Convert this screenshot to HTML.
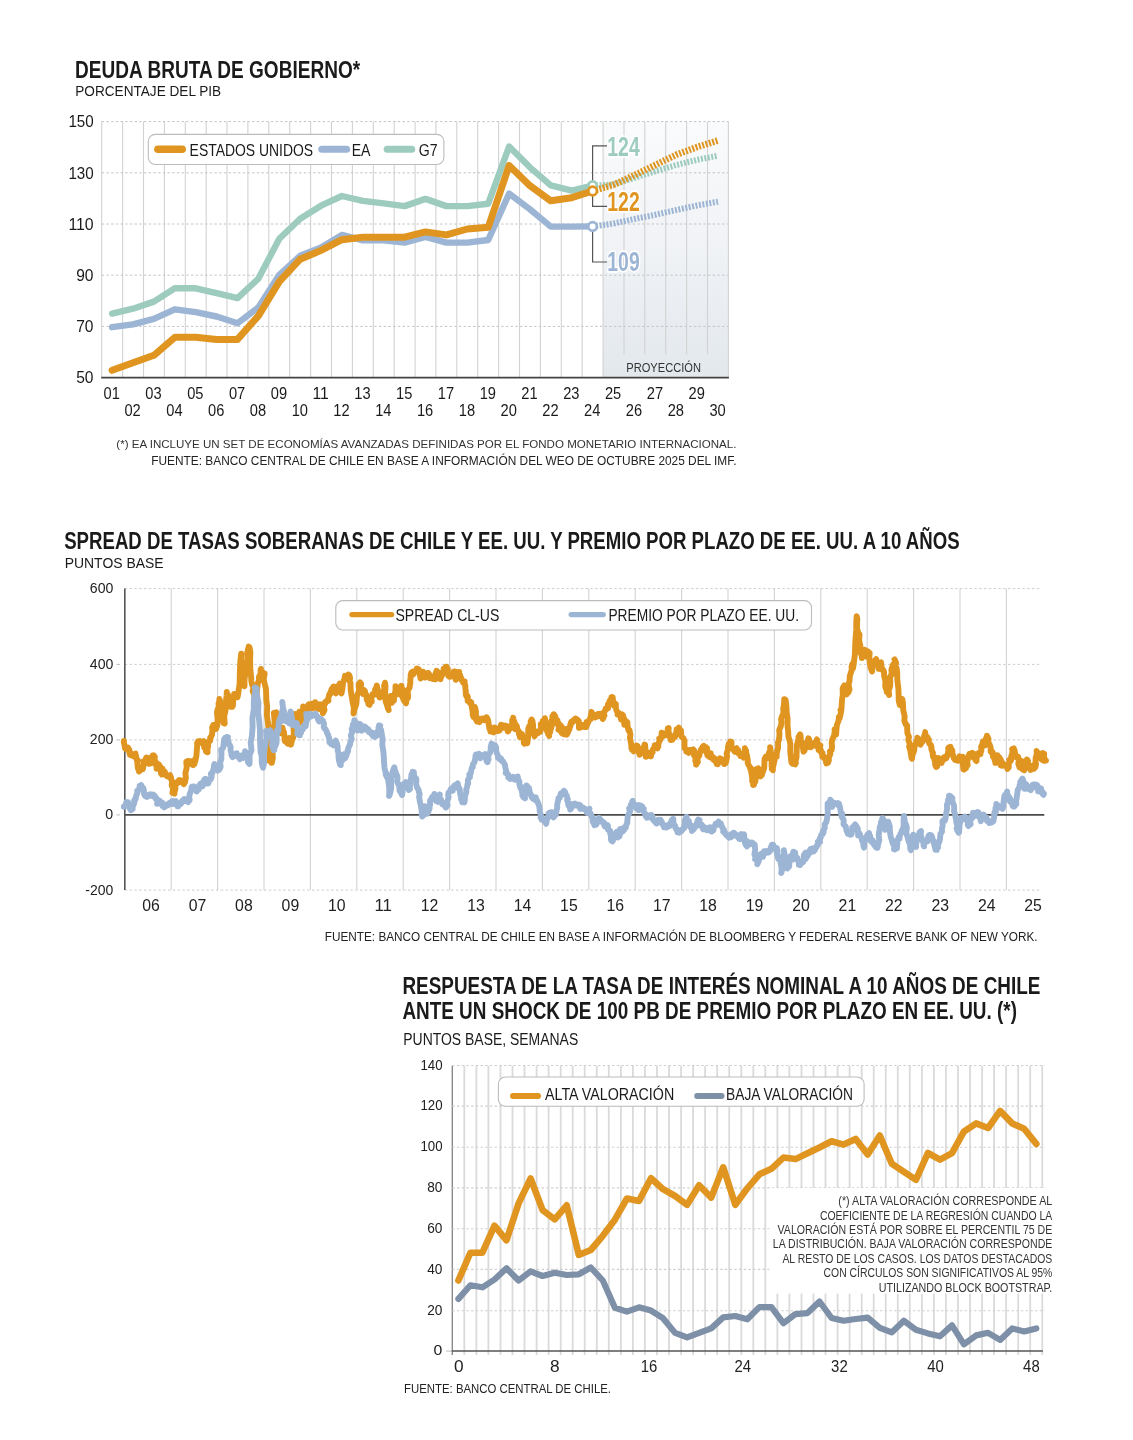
<!DOCTYPE html>
<html lang="es"><head><meta charset="utf-8"><title>Gráficos</title>
<style>
html,body{margin:0;padding:0;background:#fff;}
body{width:1133px;height:1440px;overflow:hidden;font-family:"Liberation Sans",sans-serif;}
svg{display:block;will-change:transform;}
svg text{font-family:"Liberation Sans",sans-serif;}
</style></head><body>
<svg width="1133" height="1440" viewBox="0 0 1133 1440">
<defs>
<linearGradient id="proj" x1="0" y1="0" x2="0" y2="1">
<stop offset="0" stop-color="#fafbfc"/><stop offset="0.45" stop-color="#f1f3f6"/><stop offset="1" stop-color="#e3e8ed"/>
</linearGradient>
</defs>
<rect width="1133" height="1440" fill="#fff"/>
<text x="75.1" y="78.0" font-size="23.3" font-weight="bold" text-anchor="start" fill="#1a1a1a" textLength="285.1" lengthAdjust="spacingAndGlyphs" >DEUDA BRUTA DE GOBIERNO*</text>
<text x="75.3" y="96.0" font-size="15" font-weight="normal" text-anchor="start" fill="#1a1a1a" textLength="145.9" lengthAdjust="spacingAndGlyphs" >PORCENTAJE DEL PIB</text>
<rect x="603.1" y="121.6" width="125.3" height="256.0" fill="url(#proj)"/>
<line x1="101.7" y1="121.6" x2="101.7" y2="377.6" stroke="#d2d2d2" stroke-width="1.1" />
<line x1="122.6" y1="121.6" x2="122.6" y2="377.6" stroke="#d2d2d2" stroke-width="1.1" />
<line x1="143.5" y1="121.6" x2="143.5" y2="377.6" stroke="#d2d2d2" stroke-width="1.1" />
<line x1="164.4" y1="121.6" x2="164.4" y2="377.6" stroke="#d2d2d2" stroke-width="1.1" />
<line x1="185.3" y1="121.6" x2="185.3" y2="377.6" stroke="#d2d2d2" stroke-width="1.1" />
<line x1="206.2" y1="121.6" x2="206.2" y2="377.6" stroke="#d2d2d2" stroke-width="1.1" />
<line x1="227.0" y1="121.6" x2="227.0" y2="377.6" stroke="#d2d2d2" stroke-width="1.1" />
<line x1="247.9" y1="121.6" x2="247.9" y2="377.6" stroke="#d2d2d2" stroke-width="1.1" />
<line x1="268.8" y1="121.6" x2="268.8" y2="377.6" stroke="#d2d2d2" stroke-width="1.1" />
<line x1="289.7" y1="121.6" x2="289.7" y2="377.6" stroke="#d2d2d2" stroke-width="1.1" />
<line x1="310.6" y1="121.6" x2="310.6" y2="377.6" stroke="#d2d2d2" stroke-width="1.1" />
<line x1="331.5" y1="121.6" x2="331.5" y2="377.6" stroke="#d2d2d2" stroke-width="1.1" />
<line x1="352.4" y1="121.6" x2="352.4" y2="377.6" stroke="#d2d2d2" stroke-width="1.1" />
<line x1="373.3" y1="121.6" x2="373.3" y2="377.6" stroke="#d2d2d2" stroke-width="1.1" />
<line x1="394.2" y1="121.6" x2="394.2" y2="377.6" stroke="#d2d2d2" stroke-width="1.1" />
<line x1="415.1" y1="121.6" x2="415.1" y2="377.6" stroke="#d2d2d2" stroke-width="1.1" />
<line x1="435.9" y1="121.6" x2="435.9" y2="377.6" stroke="#d2d2d2" stroke-width="1.1" />
<line x1="456.8" y1="121.6" x2="456.8" y2="377.6" stroke="#d2d2d2" stroke-width="1.1" />
<line x1="477.7" y1="121.6" x2="477.7" y2="377.6" stroke="#d2d2d2" stroke-width="1.1" />
<line x1="498.6" y1="121.6" x2="498.6" y2="377.6" stroke="#d2d2d2" stroke-width="1.1" />
<line x1="519.5" y1="121.6" x2="519.5" y2="377.6" stroke="#d2d2d2" stroke-width="1.1" />
<line x1="540.4" y1="121.6" x2="540.4" y2="377.6" stroke="#d2d2d2" stroke-width="1.1" />
<line x1="561.3" y1="121.6" x2="561.3" y2="377.6" stroke="#d2d2d2" stroke-width="1.1" />
<line x1="582.2" y1="121.6" x2="582.2" y2="377.6" stroke="#d2d2d2" stroke-width="1.1" />
<line x1="603.1" y1="121.6" x2="603.1" y2="377.6" stroke="#d2d2d2" stroke-width="1.1" />
<line x1="624.0" y1="121.6" x2="624.0" y2="354.5" stroke="#d2d2d2" stroke-width="1.1" />
<line x1="644.8" y1="121.6" x2="644.8" y2="354.5" stroke="#d2d2d2" stroke-width="1.1" />
<line x1="665.7" y1="121.6" x2="665.7" y2="354.5" stroke="#d2d2d2" stroke-width="1.1" />
<line x1="686.6" y1="121.6" x2="686.6" y2="354.5" stroke="#d2d2d2" stroke-width="1.1" />
<line x1="707.5" y1="121.6" x2="707.5" y2="354.5" stroke="#d2d2d2" stroke-width="1.1" />
<line x1="728.4" y1="121.6" x2="728.4" y2="377.6" stroke="#d2d2d2" stroke-width="1.1" />
<line x1="101.7" y1="121.6" x2="728.4" y2="121.6" stroke="#c4c4c4" stroke-width="1" stroke-dasharray="2.4 2.3"/>
<line x1="101.7" y1="172.8" x2="728.4" y2="172.8" stroke="#c4c4c4" stroke-width="1" stroke-dasharray="2.4 2.3"/>
<line x1="101.7" y1="224.0" x2="728.4" y2="224.0" stroke="#c4c4c4" stroke-width="1" stroke-dasharray="2.4 2.3"/>
<line x1="101.7" y1="275.2" x2="728.4" y2="275.2" stroke="#c4c4c4" stroke-width="1" stroke-dasharray="2.4 2.3"/>
<line x1="101.7" y1="326.4" x2="728.4" y2="326.4" stroke="#c4c4c4" stroke-width="1" stroke-dasharray="2.4 2.3"/>
<text x="93.7" y="127.4" font-size="17.2" font-weight="normal" text-anchor="end" fill="#1a1a1a" textLength="25.3" lengthAdjust="spacingAndGlyphs" >150</text>
<text x="93.7" y="178.6" font-size="17.2" font-weight="normal" text-anchor="end" fill="#1a1a1a" textLength="25.3" lengthAdjust="spacingAndGlyphs" >130</text>
<text x="93.7" y="229.8" font-size="17.2" font-weight="normal" text-anchor="end" fill="#1a1a1a" textLength="25.3" lengthAdjust="spacingAndGlyphs" >110</text>
<text x="93.5" y="281.0" font-size="17.2" font-weight="normal" text-anchor="end" fill="#1a1a1a" textLength="17.3" lengthAdjust="spacingAndGlyphs" >90</text>
<text x="93.5" y="332.2" font-size="17.2" font-weight="normal" text-anchor="end" fill="#1a1a1a" textLength="17.3" lengthAdjust="spacingAndGlyphs" >70</text>
<text x="93.5" y="383.4" font-size="17.2" font-weight="normal" text-anchor="end" fill="#1a1a1a" textLength="17.3" lengthAdjust="spacingAndGlyphs" >50</text>
<line x1="101.2" y1="377.6" x2="728.9" y2="377.6" stroke="#444" stroke-width="1.6" />
<text x="111.7" y="399.0" font-size="17.2" font-weight="normal" text-anchor="middle" fill="#1a1a1a" textLength="16.3" lengthAdjust="spacingAndGlyphs" >01</text>
<text x="132.6" y="415.6" font-size="17.2" font-weight="normal" text-anchor="middle" fill="#1a1a1a" textLength="16.3" lengthAdjust="spacingAndGlyphs" >02</text>
<text x="153.5" y="399.0" font-size="17.2" font-weight="normal" text-anchor="middle" fill="#1a1a1a" textLength="16.3" lengthAdjust="spacingAndGlyphs" >03</text>
<text x="174.4" y="415.6" font-size="17.2" font-weight="normal" text-anchor="middle" fill="#1a1a1a" textLength="16.3" lengthAdjust="spacingAndGlyphs" >04</text>
<text x="195.3" y="399.0" font-size="17.2" font-weight="normal" text-anchor="middle" fill="#1a1a1a" textLength="16.3" lengthAdjust="spacingAndGlyphs" >05</text>
<text x="216.2" y="415.6" font-size="17.2" font-weight="normal" text-anchor="middle" fill="#1a1a1a" textLength="16.3" lengthAdjust="spacingAndGlyphs" >06</text>
<text x="237.1" y="399.0" font-size="17.2" font-weight="normal" text-anchor="middle" fill="#1a1a1a" textLength="16.3" lengthAdjust="spacingAndGlyphs" >07</text>
<text x="258.0" y="415.6" font-size="17.2" font-weight="normal" text-anchor="middle" fill="#1a1a1a" textLength="16.3" lengthAdjust="spacingAndGlyphs" >08</text>
<text x="278.9" y="399.0" font-size="17.2" font-weight="normal" text-anchor="middle" fill="#1a1a1a" textLength="16.3" lengthAdjust="spacingAndGlyphs" >09</text>
<text x="299.8" y="415.6" font-size="17.2" font-weight="normal" text-anchor="middle" fill="#1a1a1a" textLength="16.3" lengthAdjust="spacingAndGlyphs" >10</text>
<text x="320.6" y="399.0" font-size="17.2" font-weight="normal" text-anchor="middle" fill="#1a1a1a" textLength="16.3" lengthAdjust="spacingAndGlyphs" >11</text>
<text x="341.5" y="415.6" font-size="17.2" font-weight="normal" text-anchor="middle" fill="#1a1a1a" textLength="16.3" lengthAdjust="spacingAndGlyphs" >12</text>
<text x="362.4" y="399.0" font-size="17.2" font-weight="normal" text-anchor="middle" fill="#1a1a1a" textLength="16.3" lengthAdjust="spacingAndGlyphs" >13</text>
<text x="383.3" y="415.6" font-size="17.2" font-weight="normal" text-anchor="middle" fill="#1a1a1a" textLength="16.3" lengthAdjust="spacingAndGlyphs" >14</text>
<text x="404.2" y="399.0" font-size="17.2" font-weight="normal" text-anchor="middle" fill="#1a1a1a" textLength="16.3" lengthAdjust="spacingAndGlyphs" >15</text>
<text x="425.1" y="415.6" font-size="17.2" font-weight="normal" text-anchor="middle" fill="#1a1a1a" textLength="16.3" lengthAdjust="spacingAndGlyphs" >16</text>
<text x="446.0" y="399.0" font-size="17.2" font-weight="normal" text-anchor="middle" fill="#1a1a1a" textLength="16.3" lengthAdjust="spacingAndGlyphs" >17</text>
<text x="466.9" y="415.6" font-size="17.2" font-weight="normal" text-anchor="middle" fill="#1a1a1a" textLength="16.3" lengthAdjust="spacingAndGlyphs" >18</text>
<text x="487.8" y="399.0" font-size="17.2" font-weight="normal" text-anchor="middle" fill="#1a1a1a" textLength="16.3" lengthAdjust="spacingAndGlyphs" >19</text>
<text x="508.7" y="415.6" font-size="17.2" font-weight="normal" text-anchor="middle" fill="#1a1a1a" textLength="16.3" lengthAdjust="spacingAndGlyphs" >20</text>
<text x="529.5" y="399.0" font-size="17.2" font-weight="normal" text-anchor="middle" fill="#1a1a1a" textLength="16.3" lengthAdjust="spacingAndGlyphs" >21</text>
<text x="550.4" y="415.6" font-size="17.2" font-weight="normal" text-anchor="middle" fill="#1a1a1a" textLength="16.3" lengthAdjust="spacingAndGlyphs" >22</text>
<text x="571.3" y="399.0" font-size="17.2" font-weight="normal" text-anchor="middle" fill="#1a1a1a" textLength="16.3" lengthAdjust="spacingAndGlyphs" >23</text>
<text x="592.2" y="415.6" font-size="17.2" font-weight="normal" text-anchor="middle" fill="#1a1a1a" textLength="16.3" lengthAdjust="spacingAndGlyphs" >24</text>
<text x="613.1" y="399.0" font-size="17.2" font-weight="normal" text-anchor="middle" fill="#1a1a1a" textLength="16.3" lengthAdjust="spacingAndGlyphs" >25</text>
<text x="634.0" y="415.6" font-size="17.2" font-weight="normal" text-anchor="middle" fill="#1a1a1a" textLength="16.3" lengthAdjust="spacingAndGlyphs" >26</text>
<text x="654.9" y="399.0" font-size="17.2" font-weight="normal" text-anchor="middle" fill="#1a1a1a" textLength="16.3" lengthAdjust="spacingAndGlyphs" >27</text>
<text x="675.8" y="415.6" font-size="17.2" font-weight="normal" text-anchor="middle" fill="#1a1a1a" textLength="16.3" lengthAdjust="spacingAndGlyphs" >28</text>
<text x="696.7" y="399.0" font-size="17.2" font-weight="normal" text-anchor="middle" fill="#1a1a1a" textLength="16.3" lengthAdjust="spacingAndGlyphs" >29</text>
<text x="717.6" y="415.6" font-size="17.2" font-weight="normal" text-anchor="middle" fill="#1a1a1a" textLength="16.3" lengthAdjust="spacingAndGlyphs" >30</text>
<text x="663.6" y="372.3" font-size="12.2" font-weight="normal" text-anchor="middle" fill="#333" textLength="74.7" lengthAdjust="spacingAndGlyphs" >PROYECCIÓN</text>
<polyline points="112.1,313.6 133.0,308.7 153.9,301.6 174.8,288.3 195.7,288.3 216.6,293.2 237.5,298.1 258.4,278.6 279.3,238.8 300.2,218.8 321.0,205.7 341.9,196.0 362.8,200.9 383.7,203.4 404.6,206.1 425.5,198.9 446.4,206.1 467.3,206.1 488.2,203.7 509.1,146.6 529.9,167.3 550.8,185.3 571.7,190.6 592.6,185.7" fill="none" stroke="#9DCBBE" stroke-width="6.4" stroke-linejoin="round" stroke-linecap="round" />
<polyline points="112.1,327.2 133.0,324.3 153.9,318.8 174.8,309.3 195.7,312.2 216.6,316.5 237.5,323.3 258.4,307.4 279.3,274.8 300.2,255.8 321.0,247.5 341.9,234.9 362.8,240.3 383.7,240.3 404.6,242.6 425.5,236.8 446.4,242.6 467.3,242.6 488.2,240.0 509.1,193.6 529.9,209.3 550.8,226.6 571.7,226.6 592.6,226.4" fill="none" stroke="#9DB5D4" stroke-width="6.4" stroke-linejoin="round" stroke-linecap="round" />
<polyline points="112.1,370.3 133.0,362.7 153.9,355.3 174.8,337.3 195.7,337.3 216.6,339.4 237.5,339.4 258.4,315.9 279.3,281.6 300.2,259.2 321.0,250.4 341.9,239.7 362.8,237.2 383.7,237.2 404.6,237.2 425.5,231.9 446.4,234.9 467.3,229.0 488.2,227.3 509.1,165.5 529.9,185.7 550.8,200.8 571.7,197.7 592.6,191.0" fill="none" stroke="#DF9520" stroke-width="7" stroke-linejoin="round" stroke-linecap="round" />
<polyline points="592.6,185.7 613.5,184.5 634.4,177.8 655.3,171.3 676.2,165.0 697.1,159.8 718.0,155.7" fill="none" stroke="#9DCBBE" stroke-width="6" stroke-linejoin="round" stroke-linecap="butt" stroke-dasharray="2 1.5"/>
<polyline points="592.6,226.4 613.5,223.5 634.4,219.0 655.3,214.8 676.2,210.0 697.1,205.5 718.0,201.7" fill="none" stroke="#9DB5D4" stroke-width="6" stroke-linejoin="round" stroke-linecap="butt" stroke-dasharray="2 1.5"/>
<polyline points="592.6,191.0 613.5,184.8 634.4,175.2 655.3,165.0 676.2,154.8 697.1,147.0 718.0,140.5" fill="none" stroke="#DF9520" stroke-width="6.6" stroke-linejoin="round" stroke-linecap="butt" stroke-dasharray="2 1.5"/>
<path d="M592.6,181 V145.8 H607" fill="none" stroke="#555" stroke-width="1.2"/>
<path d="M592.6,196 V206.3 H607" fill="none" stroke="#555" stroke-width="1.2"/>
<path d="M592.6,231 V262 H607" fill="none" stroke="#555" stroke-width="1.2"/>
<circle cx="592.6" cy="185.7" r="4.3" fill="#fff" stroke="#9DCBBE" stroke-width="2.7"/>
<circle cx="592.6" cy="191.0" r="4.3" fill="#fff" stroke="#DF9520" stroke-width="2.7"/>
<circle cx="592.6" cy="226.4" r="4.3" fill="#fff" stroke="#9DB5D4" stroke-width="2.7"/>
<text x="607.3" y="156.4" font-size="27" font-weight="bold" text-anchor="start" fill="#9DCBBE" textLength="32.4" lengthAdjust="spacingAndGlyphs" stroke="#fff" stroke-width="3.5" paint-order="stroke" stroke-linejoin="round">124</text>
<text x="607.3" y="211.2" font-size="27" font-weight="bold" text-anchor="start" fill="#DF9520" textLength="32.4" lengthAdjust="spacingAndGlyphs" stroke="#fff" stroke-width="3.5" paint-order="stroke" stroke-linejoin="round">122</text>
<text x="607.3" y="270.8" font-size="27" font-weight="bold" text-anchor="start" fill="#9DB5D4" textLength="32.4" lengthAdjust="spacingAndGlyphs" stroke="#fff" stroke-width="3.5" paint-order="stroke" stroke-linejoin="round">109</text>
<rect x="148.3" y="134.4" width="295.6" height="30.1" rx="7" fill="#fff" stroke="#bcbcbc" stroke-width="1.1"/>
<line x1="157.9" y1="149.3" x2="182.2" y2="149.3" stroke="#DF9520" stroke-width="7.6" stroke-linecap="round"/>
<text x="189.6" y="155.8" font-size="16.4" font-weight="normal" text-anchor="start" fill="#1a1a1a" textLength="123.5" lengthAdjust="spacingAndGlyphs" >ESTADOS UNIDOS</text>
<line x1="321.8" y1="149.3" x2="346.6" y2="149.3" stroke="#9DB5D4" stroke-width="7.1" stroke-linecap="round"/>
<text x="351.7" y="155.8" font-size="16.4" font-weight="normal" text-anchor="start" fill="#1a1a1a" textLength="18.8" lengthAdjust="spacingAndGlyphs" >EA</text>
<line x1="387.2" y1="149.3" x2="411.7" y2="149.3" stroke="#9DCBBE" stroke-width="7.1" stroke-linecap="round"/>
<text x="418.7" y="155.8" font-size="16.4" font-weight="normal" text-anchor="start" fill="#1a1a1a" textLength="18.8" lengthAdjust="spacingAndGlyphs" >G7</text>
<text x="736.4" y="447.7" font-size="11.5" font-weight="normal" text-anchor="end" fill="#333" textLength="620.1" lengthAdjust="spacingAndGlyphs" >(*) EA INCLUYE UN SET DE ECONOMÍAS AVANZADAS DEFINIDAS POR EL FONDO MONETARIO INTERNACIONAL.</text>
<text x="736.5" y="464.7" font-size="13.1" font-weight="normal" text-anchor="end" fill="#222" textLength="585.3" lengthAdjust="spacingAndGlyphs" >FUENTE: BANCO CENTRAL DE CHILE EN BASE A INFORMACIÓN DEL WEO DE OCTUBRE 2025 DEL IMF.</text>
<text x="64.2" y="549.1" font-size="23.3" font-weight="bold" text-anchor="start" fill="#1a1a1a" textLength="895.4" lengthAdjust="spacingAndGlyphs" >SPREAD DE TASAS SOBERANAS DE CHILE Y EE. UU. Y PREMIO POR PLAZO DE EE. UU. A 10 AÑOS</text>
<text x="64.7" y="568.0" font-size="15.4" font-weight="normal" text-anchor="start" fill="#1a1a1a" textLength="98.9" lengthAdjust="spacingAndGlyphs" >PUNTOS BASE</text>
<line x1="171.2" y1="588.6" x2="171.2" y2="890.1" stroke="#d2d2d2" stroke-width="1.1" />
<line x1="217.6" y1="588.6" x2="217.6" y2="890.1" stroke="#d2d2d2" stroke-width="1.1" />
<line x1="264.0" y1="588.6" x2="264.0" y2="890.1" stroke="#d2d2d2" stroke-width="1.1" />
<line x1="310.4" y1="588.6" x2="310.4" y2="890.1" stroke="#d2d2d2" stroke-width="1.1" />
<line x1="356.8" y1="588.6" x2="356.8" y2="890.1" stroke="#d2d2d2" stroke-width="1.1" />
<line x1="403.2" y1="588.6" x2="403.2" y2="890.1" stroke="#d2d2d2" stroke-width="1.1" />
<line x1="449.6" y1="588.6" x2="449.6" y2="890.1" stroke="#d2d2d2" stroke-width="1.1" />
<line x1="496.0" y1="588.6" x2="496.0" y2="890.1" stroke="#d2d2d2" stroke-width="1.1" />
<line x1="542.4" y1="588.6" x2="542.4" y2="890.1" stroke="#d2d2d2" stroke-width="1.1" />
<line x1="588.8" y1="588.6" x2="588.8" y2="890.1" stroke="#d2d2d2" stroke-width="1.1" />
<line x1="635.2" y1="588.6" x2="635.2" y2="890.1" stroke="#d2d2d2" stroke-width="1.1" />
<line x1="681.6" y1="588.6" x2="681.6" y2="890.1" stroke="#d2d2d2" stroke-width="1.1" />
<line x1="728.0" y1="588.6" x2="728.0" y2="890.1" stroke="#d2d2d2" stroke-width="1.1" />
<line x1="774.4" y1="588.6" x2="774.4" y2="890.1" stroke="#d2d2d2" stroke-width="1.1" />
<line x1="820.8" y1="588.6" x2="820.8" y2="890.1" stroke="#d2d2d2" stroke-width="1.1" />
<line x1="867.2" y1="588.6" x2="867.2" y2="890.1" stroke="#d2d2d2" stroke-width="1.1" />
<line x1="913.6" y1="588.6" x2="913.6" y2="890.1" stroke="#d2d2d2" stroke-width="1.1" />
<line x1="960.0" y1="588.6" x2="960.0" y2="890.1" stroke="#d2d2d2" stroke-width="1.1" />
<line x1="1006.4" y1="588.6" x2="1006.4" y2="890.1" stroke="#d2d2d2" stroke-width="1.1" />
<line x1="124.8" y1="588.6" x2="1040.6" y2="588.6" stroke="#cdcdcd" stroke-width="1" stroke-dasharray="2.4 2.4"/>
<line x1="124.8" y1="664.4" x2="1040.6" y2="664.4" stroke="#cdcdcd" stroke-width="1" stroke-dasharray="2.4 2.4"/>
<line x1="124.8" y1="739.9" x2="1040.6" y2="739.9" stroke="#cdcdcd" stroke-width="1" stroke-dasharray="2.4 2.4"/>
<line x1="124.8" y1="890.1" x2="1040.6" y2="890.1" stroke="#cdcdcd" stroke-width="1" stroke-dasharray="2.4 2.4"/>
<text x="113.3" y="593.0" font-size="13.8" font-weight="normal" text-anchor="end" fill="#222" textLength="23.5" lengthAdjust="spacingAndGlyphs" >600</text>
<text x="113.3" y="668.8" font-size="13.8" font-weight="normal" text-anchor="end" fill="#222" textLength="23.5" lengthAdjust="spacingAndGlyphs" >400</text>
<text x="113.3" y="744.3" font-size="13.8" font-weight="normal" text-anchor="end" fill="#222" textLength="23.5" lengthAdjust="spacingAndGlyphs" >200</text>
<text x="113.1" y="819.3" font-size="13.8" font-weight="normal" text-anchor="end" fill="#222" textLength="7.9" lengthAdjust="spacingAndGlyphs" >0</text>
<text x="113.3" y="894.5" font-size="13.8" font-weight="normal" text-anchor="end" fill="#222" textLength="28.0" lengthAdjust="spacingAndGlyphs" >-200</text>
<line x1="116.5" y1="664.4" x2="120.0" y2="664.4" stroke="#bdbdbd" stroke-width="1" />
<line x1="116.5" y1="739.9" x2="120.0" y2="739.9" stroke="#bdbdbd" stroke-width="1" />
<line x1="116.5" y1="814.9" x2="120.0" y2="814.9" stroke="#bdbdbd" stroke-width="1" />
<line x1="124.8" y1="814.9" x2="1044.3" y2="814.9" stroke="#4a4a4a" stroke-width="1.7" />
<line x1="124.8" y1="588.6" x2="124.8" y2="890.1" stroke="#555" stroke-width="1.6" />
<polyline points="123.9,741.0 123.8,742.3 124.7,745.8 125.0,748.5 126.2,749.2 125.8,748.6 126.9,749.2 126.9,748.2 128.0,747.6 127.9,750.1 129.2,749.5 130.1,752.3 129.6,753.4 129.8,754.6 130.2,755.0 131.4,754.4 131.4,754.8 132.9,755.0 133.0,756.1 133.7,755.3 134.0,755.4 135.2,757.1 135.4,753.4 135.1,755.5 136.0,755.4 136.2,758.7 137.3,760.9 138.0,760.4 137.3,762.3 137.7,767.1 138.3,769.4 139.9,769.8 139.1,771.6 140.9,769.6 140.5,770.1 140.7,769.8 142.1,769.3 142.7,769.3 143.1,768.2 143.6,763.9 144.1,764.2 143.7,761.1 145.0,761.9 145.6,760.1 145.9,759.8 146.1,757.7 146.4,757.5 147.3,758.7 148.2,758.0 148.7,759.9 148.5,761.6 148.8,763.8 150.5,763.6 149.7,763.2 151.4,760.4 151.2,759.0 151.1,759.1 152.3,756.8 152.7,755.4 154.0,756.9 153.9,755.4 154.9,757.1 154.1,759.0 155.8,762.1 155.3,764.1 156.9,767.2 156.6,768.8 157.0,766.8 157.6,766.0 158.8,764.4 159.0,766.1 159.6,765.6 160.7,767.5 160.9,770.7 160.9,773.3 161.9,774.5 161.3,771.9 162.4,770.6 162.6,768.6 162.7,770.1 164.1,771.8 164.1,771.2 164.6,771.5 165.4,773.3 165.3,773.8 166.1,775.5 166.2,774.5 167.4,776.6 168.6,776.7 168.9,776.7 169.6,776.3 168.8,776.0 170.0,775.1 170.8,776.9 171.3,779.6 172.1,781.5 171.7,785.3 173.2,788.8 172.4,792.8 173.7,792.8 174.5,793.6 174.2,792.6 174.2,793.0 175.5,788.4 175.3,785.4 176.6,782.3 176.2,783.0 177.9,781.9 177.4,783.3 177.6,782.3 179.4,779.9 179.0,780.2 180.0,781.4 181.0,782.0 181.2,781.0 182.1,780.5 182.2,780.9 183.2,780.8 182.4,781.4 183.8,784.1 183.9,784.2 185.0,782.2 185.0,781.7 185.9,777.8 185.4,773.3 186.7,767.9 186.3,761.7 188.0,760.9 188.6,762.1 188.5,761.7 188.9,761.7 189.9,761.9 189.7,763.7 190.1,762.7 190.9,761.1 191.5,761.2 191.3,763.5 193.2,764.0 193.0,765.2 193.2,763.4 194.5,763.9 195.0,760.8 195.4,761.0 195.3,759.0 195.7,759.3 196.4,755.7 196.8,750.5 197.2,745.5 197.1,743.1 198.0,741.3 199.0,742.0 200.2,741.2 199.9,741.1 200.7,742.8 201.3,742.2 201.7,742.2 202.6,742.1 201.7,742.0 203.6,741.1 202.6,742.8 203.9,744.1 204.2,747.6 205.4,748.5 205.6,747.7 206.0,751.1 206.1,751.6 207.6,752.3 207.5,749.5 208.2,745.8 208.0,743.0 208.9,741.2 210.0,741.0 210.2,740.7 210.2,737.8 210.6,738.0 212.0,734.6 212.4,730.6 212.2,727.5 212.4,727.6 213.3,724.9 214.7,725.1 214.4,725.2 215.0,728.3 215.8,728.2 215.9,729.1 217.2,725.8 217.6,719.3 217.0,712.2 217.8,708.9 218.9,707.5 218.5,703.4 219.2,701.8 219.4,699.0 220.5,702.5 220.9,706.8 220.8,708.9 221.5,710.8 222.0,714.1 222.7,715.4 223.1,719.1 223.4,723.0 224.7,723.6 224.2,716.6 225.7,709.4 226.4,703.8 226.1,700.4 226.6,695.2 226.8,691.9 227.2,693.4 228.7,695.9 229.2,697.9 228.9,696.9 230.5,699.0 229.6,700.4 230.6,702.2 230.7,706.8 232.2,705.4 232.1,706.9 232.9,705.8 233.1,702.1 233.5,698.4 234.7,697.1 234.2,693.9 234.7,696.1 235.5,695.9 235.6,695.3 236.7,696.2 237.6,697.0 238.2,693.9 238.4,691.8 239.6,684.0 239.9,670.7 240.4,660.4 241.0,656.0 241.2,653.6 241.4,660.8 241.9,668.0 243.0,674.7 243.0,679.2 243.4,680.3 243.4,682.8 244.5,686.3 244.5,679.9 245.3,673.3 245.2,667.9 246.6,663.6 247.0,662.4 247.7,658.4 247.1,653.1 248.7,646.6 249.5,647.3 250.0,649.7 250.4,652.6 250.1,659.2 250.3,668.8 251.2,677.8 251.3,680.7 252.0,684.4 253.4,687.9 252.6,691.1 254.6,695.5 254.2,696.9 255.5,696.8 255.8,696.6 255.8,697.2 256.2,700.3 256.2,700.6 256.6,694.4 257.1,689.9 257.8,683.0 258.9,680.9 259.0,676.6 260.5,674.0 260.9,668.9 260.5,670.8 261.0,672.8 261.7,674.4 262.8,672.4 262.6,674.0 263.1,674.1 264.7,673.6 263.7,679.3 264.7,683.9 265.9,688.4 266.2,694.3 266.4,700.7 267.2,706.1 266.9,715.3 267.9,722.4 268.7,730.1 268.1,740.7 269.2,748.4 269.4,754.9 269.7,761.1 271.6,761.3 271.8,762.6 271.8,762.9 272.8,758.2 272.4,746.6 273.5,733.7 274.6,720.9 273.8,712.8 274.3,712.7 274.7,713.9 276.3,712.5 276.9,714.1 276.3,716.6 277.9,721.5 277.1,725.0 278.6,724.5 279.5,728.2 279.2,730.9 280.4,731.4 281.0,733.2 280.6,732.3 281.8,730.1 282.6,730.7 282.5,727.7 282.8,729.6 284.1,732.6 284.2,734.7 284.6,736.7 284.5,738.8 284.8,741.0 285.7,741.8 286.6,742.1 287.6,742.4 286.6,742.2 287.6,743.7 288.2,740.7 289.7,739.7 289.1,738.1 289.8,740.1 290.3,743.1 290.7,744.1 290.9,744.6 291.7,741.7 292.5,738.1 293.3,737.7 293.8,733.0 293.3,725.9 294.1,719.1 294.8,714.0 294.8,714.1 295.4,714.7 296.4,717.0 296.8,715.6 297.5,717.2 297.7,716.6 298.6,713.9 299.3,711.7 299.8,711.7 300.2,715.6 299.8,719.6 300.2,722.8 301.2,720.2 302.1,717.9 302.2,717.9 302.4,714.2 303.1,710.5 303.2,706.5 303.9,708.0 304.5,707.9 305.5,709.6 306.3,709.9 305.7,709.2 306.6,711.3 308.1,710.9 307.2,708.6 308.6,707.1 308.4,704.7 308.8,704.3 310.2,705.0 310.2,704.8 310.3,704.9 311.0,704.0 311.3,703.8 312.8,705.8 312.9,708.5 313.0,707.5 314.2,706.1 314.4,705.4 315.6,705.1 315.3,704.4 315.2,702.3 315.8,705.6 316.8,707.2 316.9,707.5 317.9,708.7 319.0,709.1 319.2,706.1 319.3,704.3 320.6,704.5 319.9,704.6 320.9,705.1 321.2,704.7 322.7,707.3 321.7,709.4 322.8,711.6 322.9,713.3 324.5,710.1 323.7,706.0 325.7,702.9 325.2,702.0 326.4,701.7 326.6,700.9 327.5,699.9 328.1,700.0 328.5,700.7 328.3,698.6 328.6,697.1 329.5,693.9 329.5,694.3 330.8,693.5 330.7,692.0 331.8,692.0 331.3,690.1 331.6,689.0 332.6,688.2 333.5,686.5 334.0,686.5 334.6,688.6 334.8,692.0 335.9,693.3 335.3,690.9 335.9,690.7 336.3,692.1 337.1,688.9 338.4,688.1 338.9,688.3 338.1,686.7 339.6,683.7 339.5,684.4 340.5,687.8 341.1,690.3 340.9,691.9 341.5,693.5 342.0,690.9 342.5,688.0 343.0,682.8 344.3,679.3 345.0,675.8 345.4,678.1 345.1,676.2 346.5,678.5 346.3,676.7 347.3,678.1 347.1,678.3 348.5,678.2 348.5,674.5 349.5,675.5 350.1,678.3 349.3,680.4 350.5,682.9 350.5,686.1 350.7,689.7 351.6,695.7 352.7,702.4 353.6,706.7 354.2,711.7 353.5,713.4 353.6,711.0 354.2,708.4 354.6,708.8 355.4,706.8 356.4,703.6 356.7,699.4 356.9,696.2 358.2,692.8 359.1,690.2 358.8,688.1 358.6,684.3 360.1,682.4 361.1,684.1 361.2,683.9 360.7,687.1 362.2,690.5 363.1,693.9 363.0,693.4 363.4,691.7 364.2,690.2 365.0,691.3 364.8,691.9 365.7,694.0 366.0,694.3 366.6,696.0 366.6,695.5 366.7,699.5 368.5,702.7 368.3,704.0 369.6,704.9 369.6,704.9 369.8,703.1 370.2,702.7 370.1,702.4 371.8,701.6 371.1,697.8 372.5,695.5 373.5,695.2 372.7,694.0 374.7,693.4 373.8,694.9 375.6,692.6 375.0,689.7 376.2,687.9 376.8,685.6 377.0,686.0 377.1,687.1 377.9,690.1 379.0,693.1 378.4,694.9 379.6,697.6 380.1,697.5 380.2,696.3 380.3,694.3 381.8,695.1 381.1,693.0 382.1,693.2 383.2,693.0 383.2,691.7 384.5,689.2 384.1,685.9 385.0,682.7 385.5,686.6 385.1,693.9 385.7,701.6 386.9,704.8 387.8,708.0 388.7,710.0 388.2,708.5 388.2,703.8 389.4,700.4 390.6,695.9 389.7,699.0 390.2,699.1 391.9,702.8 391.1,702.4 392.1,700.1 392.1,699.1 392.9,699.7 394.0,700.4 394.0,695.6 395.5,690.8 395.5,686.1 395.6,687.5 395.6,689.1 397.1,691.4 396.9,693.8 398.5,693.4 398.9,693.5 398.3,694.2 398.8,693.0 399.5,688.8 400.5,687.1 401.4,685.7 400.8,686.3 402.3,688.7 403.1,691.5 402.4,697.0 403.0,697.7 403.5,699.8 404.0,700.5 404.6,701.5 406.0,703.3 406.1,703.1 406.2,702.1 406.5,699.0 408.0,698.0 408.1,696.0 407.7,690.1 409.5,687.9 410.1,684.2 410.3,683.2 410.3,679.9 410.7,677.2 410.6,675.2 411.4,672.6 413.0,673.7 412.3,674.7 413.6,674.2 413.2,671.5 414.0,671.9 414.4,671.8 415.1,672.0 416.0,670.3 417.0,670.7 417.2,670.9 416.9,668.5 418.7,669.2 417.9,671.4 419.6,672.5 420.0,675.4 420.3,677.3 420.6,677.8 420.3,677.6 420.6,678.4 422.1,675.9 421.9,676.6 423.4,673.2 423.2,671.7 423.2,671.7 424.7,675.0 424.2,674.1 425.2,675.2 425.3,677.6 426.1,676.2 427.5,676.5 428.0,674.8 427.8,672.9 428.5,673.1 428.9,673.8 429.3,674.6 429.4,675.0 429.8,678.2 430.3,677.5 430.7,677.0 432.1,677.5 433.0,679.0 433.1,678.3 433.1,677.9 434.4,678.8 435.2,679.3 434.6,676.7 434.6,676.1 435.7,673.2 435.8,673.2 436.6,670.8 437.5,671.6 438.1,675.2 438.5,677.5 438.7,678.5 438.7,678.3 440.5,679.2 439.9,676.9 440.6,676.5 441.0,677.5 441.9,675.6 442.1,675.1 442.2,672.5 444.1,669.5 443.7,668.7 444.5,669.8 445.1,670.1 445.1,669.1 445.7,666.8 446.5,666.8 446.7,669.0 447.9,669.1 447.5,671.5 448.0,673.6 448.1,675.5 449.5,676.8 450.6,676.6 450.5,676.5 450.1,675.2 451.5,675.6 451.3,676.5 451.7,676.5 453.4,674.9 453.7,672.1 453.6,671.7 454.8,671.5 454.3,673.1 455.9,674.9 456.0,678.6 455.9,679.9 456.1,679.2 458.0,675.5 458.1,672.1 459.2,671.9 458.3,675.4 460.2,675.5 459.4,676.8 460.6,678.7 461.0,677.7 461.3,678.1 461.4,679.8 463.1,681.5 463.3,682.9 462.8,681.9 464.7,681.4 464.2,682.0 465.3,685.4 465.3,688.1 465.8,691.3 465.7,694.0 466.2,696.0 467.3,695.7 467.8,696.9 467.6,701.0 469.6,701.6 469.2,701.9 470.3,703.5 470.5,701.6 471.3,702.5 471.9,708.0 472.6,711.4 472.9,715.0 473.5,716.9 472.7,714.7 474.6,712.5 474.4,709.8 474.9,707.0 476.0,711.6 475.8,716.7 475.8,719.2 477.1,721.5 477.9,719.3 477.8,718.2 477.7,720.5 478.2,719.8 479.2,720.5 479.5,722.2 480.4,720.4 481.3,719.3 481.5,718.9 482.3,718.5 482.4,718.8 482.8,719.1 483.4,719.3 484.4,718.5 484.5,720.3 485.2,719.9 485.5,719.3 485.9,718.9 486.4,718.2 486.5,717.1 487.5,718.7 488.3,721.1 488.8,725.5 489.6,726.4 489.2,727.9 490.1,730.2 490.8,730.0 490.5,731.6 491.2,730.2 492.2,731.6 492.2,730.4 493.6,732.3 493.8,730.9 493.4,730.4 494.6,727.5 495.2,727.9 495.3,727.8 495.2,729.6 495.8,729.8 497.3,730.4 497.8,731.0 497.8,728.9 498.6,729.5 499.6,730.3 498.9,729.8 500.6,726.5 501.1,724.6 501.0,724.6 500.8,725.3 502.4,727.2 502.1,728.0 502.7,726.1 503.0,725.2 503.9,726.2 503.7,727.3 505.0,726.0 505.2,725.5 506.5,726.0 505.7,727.5 506.9,728.9 507.7,731.5 508.5,731.0 508.7,728.9 509.4,727.7 509.9,726.2 510.3,728.6 510.2,727.4 511.2,727.2 511.4,727.4 512.2,724.5 512.2,720.1 513.3,718.7 513.2,717.6 513.4,719.0 514.0,721.2 515.2,724.2 515.6,729.0 515.2,729.2 516.9,729.2 516.8,725.8 517.2,728.7 518.2,730.8 519.0,731.4 519.0,733.9 519.3,733.8 519.9,737.3 520.1,736.6 520.5,736.9 521.3,736.1 521.1,734.5 522.0,734.0 522.1,735.7 523.9,737.6 523.8,743.1 524.5,743.7 524.9,742.0 526.1,743.1 526.0,743.2 527.0,743.0 526.8,742.8 527.3,743.1 528.0,738.3 528.2,735.4 528.3,728.2 528.8,728.0 529.2,726.1 531.0,725.7 530.6,721.7 531.5,719.6 531.7,719.5 532.5,721.4 533.1,725.2 533.0,729.3 533.6,733.2 534.3,735.6 534.5,736.3 535.7,734.3 536.0,733.5 536.4,731.5 537.3,732.9 537.2,733.4 538.0,733.1 538.6,732.5 538.2,731.7 540.1,731.0 540.4,731.7 540.9,728.0 540.9,726.3 540.8,724.3 542.7,725.3 542.3,725.4 543.5,723.4 542.8,720.9 543.9,720.3 544.6,719.6 544.8,718.2 545.0,718.3 546.2,724.3 545.8,727.3 547.1,731.2 547.7,731.9 547.8,733.6 548.4,733.7 549.2,736.0 548.7,734.0 549.2,732.7 550.1,732.3 550.3,730.7 552.0,725.2 551.6,720.6 552.5,718.5 552.3,716.4 553.0,715.5 553.5,715.1 553.6,714.2 554.5,715.1 555.3,716.5 555.4,719.4 555.6,719.8 557.4,720.2 557.9,722.0 557.7,724.0 559.2,728.1 558.5,729.7 559.2,729.1 559.6,727.9 560.0,724.7 561.7,726.6 560.8,728.0 562.5,730.1 561.6,732.9 563.3,733.9 564.2,734.2 564.4,734.0 564.2,732.6 565.3,729.3 566.0,729.1 566.5,728.8 567.0,730.8 566.8,733.3 566.7,734.7 568.0,732.5 568.2,730.3 569.0,730.0 569.3,729.7 569.8,726.9 570.6,725.6 570.3,724.7 571.1,722.1 572.1,722.7 572.0,721.6 572.5,721.3 572.8,721.2 573.3,720.2 574.8,719.3 575.5,720.4 575.6,718.4 576.3,720.7 576.8,720.3 577.4,719.7 578.1,720.6 578.0,720.2 578.8,721.0 578.9,725.5 579.0,727.9 580.4,727.4 579.7,727.0 581.5,727.2 581.6,724.9 581.2,725.4 581.7,724.8 582.6,725.3 583.6,725.9 584.5,726.9 584.6,724.8 584.5,726.8 586.2,726.8 586.2,727.1 587.2,724.5 586.6,724.4 586.6,722.0 588.5,721.9 587.8,722.8 588.3,721.2 588.9,720.8 590.0,718.6 591.0,718.8 590.6,716.5 590.9,715.3 591.4,711.8 592.7,714.1 592.4,713.8 593.4,715.3 593.8,715.8 593.7,715.0 594.9,716.1 595.5,717.4 596.6,715.6 596.4,715.6 596.5,714.7 597.6,714.3 597.5,716.2 598.0,715.3 598.1,714.0 600.1,716.0 599.2,714.0 600.1,714.4 601.5,713.6 600.9,714.4 602.1,717.8 602.7,719.0 603.6,717.3 602.9,716.2 604.4,715.4 603.6,715.6 604.1,711.9 606.0,709.6 605.9,708.8 605.6,708.7 606.5,708.6 608.0,708.4 607.9,706.9 607.9,704.3 608.7,704.2 608.9,705.1 609.2,702.4 609.9,700.3 611.5,698.3 611.5,697.2 612.5,698.4 612.7,697.1 612.7,697.5 613.0,700.3 613.4,701.5 615.1,704.9 614.1,705.9 614.9,704.9 615.9,704.2 615.7,705.9 616.2,709.6 618.0,714.0 618.4,712.6 617.6,714.6 618.8,714.4 619.9,714.5 620.4,716.7 621.1,719.6 621.5,718.1 621.1,714.9 621.9,714.3 622.9,715.2 623.4,716.9 624.1,718.5 624.7,720.0 624.2,722.5 624.3,724.7 625.5,724.3 625.2,723.6 626.5,721.4 627.3,722.1 627.6,726.5 628.6,730.6 628.4,730.0 629.2,731.3 629.5,730.0 630.4,734.9 629.9,738.0 631.2,744.0 631.4,748.4 632.6,749.2 632.0,749.7 632.2,749.2 633.6,751.3 634.3,750.3 634.2,748.5 635.3,748.4 635.9,746.9 636.1,746.1 636.5,746.7 637.6,746.2 636.6,745.5 637.6,746.1 638.6,748.7 638.1,750.8 639.0,752.9 639.6,754.8 640.7,753.6 640.9,749.9 642.2,749.1 641.7,749.4 641.6,749.3 643.1,750.6 643.9,747.2 644.6,744.5 645.1,744.8 645.4,748.7 645.7,753.3 645.9,756.9 646.1,754.8 646.2,755.0 647.8,753.7 647.8,752.4 648.4,754.6 648.9,754.4 650.2,753.8 649.5,755.9 650.7,755.8 651.0,756.4 651.2,753.5 652.5,752.4 651.9,752.0 653.1,749.0 654.0,748.3 654.7,746.8 654.0,747.7 655.4,745.1 654.8,745.2 655.4,746.4 656.5,746.3 657.3,748.4 656.7,747.5 658.3,746.8 658.5,743.6 659.5,740.5 660.1,740.2 659.2,738.6 660.3,739.4 660.8,738.0 661.7,737.3 661.5,735.2 661.7,732.6 663.6,735.1 663.5,733.4 664.0,735.8 663.8,735.6 665.4,735.3 664.9,733.4 665.5,734.9 667.0,734.0 667.3,733.2 667.9,730.7 667.7,728.5 668.7,728.1 668.2,728.2 668.8,732.0 669.8,737.2 670.3,737.8 671.6,739.4 670.7,740.0 672.3,739.0 672.5,739.6 672.4,738.2 672.6,736.3 674.2,735.8 674.5,735.4 675.6,735.1 675.0,737.0 675.3,735.3 676.0,732.7 676.6,731.4 676.6,729.3 678.1,728.7 678.8,727.7 679.5,729.4 679.3,729.6 680.3,729.8 681.0,730.4 681.2,733.2 680.7,735.0 681.8,736.9 682.6,737.7 683.3,737.8 684.2,739.9 684.5,740.4 684.5,744.9 684.6,748.0 684.6,747.8 686.4,749.9 686.6,749.8 686.3,751.6 687.7,752.0 688.6,752.8 688.7,751.3 688.7,752.2 689.2,752.1 689.4,750.0 691.2,750.0 691.5,751.7 691.4,750.5 692.1,750.0 692.2,750.7 693.3,749.4 693.8,750.4 694.1,750.4 694.0,752.9 694.1,755.6 695.7,757.5 695.3,760.9 696.3,763.4 696.1,764.7 697.9,761.7 697.1,760.2 697.7,758.4 699.4,755.4 699.9,751.7 700.6,751.7 700.9,751.2 701.0,749.4 702.0,750.8 702.4,747.6 702.4,747.1 703.2,748.0 704.0,746.9 704.4,748.4 703.6,745.8 704.2,747.6 706.0,747.2 705.5,747.6 707.1,748.3 707.3,751.9 706.8,752.4 707.4,755.4 708.8,756.5 709.5,756.4 709.2,756.8 709.2,755.7 710.7,753.9 710.7,753.2 710.9,755.2 711.3,757.7 712.6,756.9 713.4,757.3 712.8,758.6 713.8,759.6 713.8,760.0 714.6,758.3 714.9,760.9 716.4,761.9 716.1,762.7 717.7,764.2 716.8,764.1 717.2,763.8 718.0,763.0 718.8,760.1 719.7,758.2 720.1,760.0 719.8,760.4 721.4,758.9 721.8,759.0 721.3,760.1 723.1,759.7 723.0,762.5 722.6,761.2 724.4,764.0 724.0,763.7 724.2,764.0 725.7,763.2 726.4,760.4 727.1,756.5 726.6,753.6 727.9,749.7 728.0,746.6 729.1,747.5 728.5,746.4 728.7,743.7 730.4,743.1 730.3,741.5 730.5,742.3 731.5,742.1 731.4,746.5 732.8,748.5 733.4,749.2 733.6,749.7 733.3,749.5 734.9,751.8 735.6,750.7 735.2,749.1 736.6,748.2 736.6,749.8 736.6,748.8 736.6,750.2 738.3,750.2 738.6,751.6 738.3,753.4 739.1,753.8 739.6,753.9 740.5,756.0 740.5,755.9 741.9,755.7 741.3,756.1 742.7,756.4 743.4,757.6 742.9,755.7 743.1,754.2 745.1,751.1 744.9,748.3 745.2,749.6 746.1,750.6 745.8,754.0 746.5,753.6 747.3,757.2 747.9,761.6 747.6,762.6 748.4,764.8 749.8,766.7 750.1,768.5 750.9,768.1 750.3,769.1 751.2,771.6 752.2,777.8 752.2,781.3 753.5,782.9 753.1,785.0 753.9,784.8 754.4,782.8 755.4,781.5 755.6,779.0 755.5,776.7 757.2,774.0 756.2,769.1 757.7,768.7 758.3,768.3 758.0,769.1 759.1,769.1 759.7,772.0 759.6,772.7 759.9,773.8 760.4,776.4 761.2,775.8 761.9,774.8 762.2,773.9 762.3,773.4 762.7,772.2 764.2,768.1 764.4,763.0 764.4,761.1 764.6,759.1 765.7,756.8 767.1,756.3 766.2,756.2 767.2,758.4 767.3,757.7 768.3,756.9 769.4,755.3 768.9,752.9 770.4,749.8 770.1,747.2 771.6,756.8 771.6,766.2 772.2,768.8 771.9,769.1 772.9,770.2 772.9,767.8 773.6,764.3 774.6,760.1 774.7,757.3 775.6,756.4 776.3,756.0 776.7,756.9 776.6,754.3 777.2,750.9 778.1,747.6 778.0,742.3 778.9,740.1 779.5,734.8 779.2,730.2 780.8,726.4 781.5,722.3 781.1,719.0 782.2,715.9 782.8,715.0 783.5,712.4 783.2,708.5 783.9,705.8 784.3,699.1 785.5,699.8 785.7,700.4 786.5,707.6 786.7,713.4 787.5,717.8 787.6,721.3 787.5,725.5 788.2,731.9 788.4,736.5 789.1,738.8 790.4,743.9 790.2,751.5 791.0,758.3 791.4,762.3 792.3,763.6 793.1,760.9 792.1,760.6 793.9,761.1 793.6,761.2 793.8,763.9 795.0,764.4 795.9,762.9 795.4,761.6 796.5,757.5 796.7,750.1 796.9,745.5 797.9,740.9 798.7,738.9 798.4,737.2 800.1,734.3 800.6,736.0 800.8,739.9 800.7,741.8 801.4,742.0 802.0,742.5 802.5,745.4 803.0,748.2 803.5,751.7 804.5,750.5 804.2,748.2 805.0,744.1 805.7,743.1 805.2,745.3 807.2,747.0 806.8,746.1 807.3,744.6 807.3,742.6 808.3,738.8 808.4,738.3 809.0,738.8 809.2,743.4 810.3,745.4 811.4,746.7 810.7,747.2 812.2,746.3 812.1,746.2 812.1,745.1 813.1,745.5 813.3,743.2 814.8,743.8 815.6,745.6 815.4,742.4 816.0,741.4 817.1,739.8 816.8,739.5 817.4,744.1 818.1,744.7 818.6,750.0 819.4,747.7 819.9,746.1 820.4,745.4 819.8,747.8 820.9,750.3 821.4,753.3 822.6,753.3 822.2,756.8 822.7,756.4 824.1,758.2 823.4,755.7 824.1,756.9 825.6,759.0 825.9,761.7 826.4,763.5 827.0,761.7 826.3,760.8 828.2,762.0 828.1,762.8 828.4,761.2 828.9,760.3 828.8,757.3 830.3,754.3 829.8,751.4 831.6,750.1 832.1,746.3 831.7,743.0 831.7,742.9 832.1,740.1 833.2,737.4 834.1,735.6 834.9,730.3 834.6,729.3 835.8,729.9 835.4,733.8 836.1,734.5 836.2,732.5 836.9,725.0 838.6,720.5 838.9,717.0 839.5,717.2 839.7,718.0 840.5,714.4 841.2,711.1 840.5,710.0 841.4,709.5 841.6,706.1 842.0,699.9 842.8,694.7 842.6,688.4 844.3,685.3 845.1,688.1 845.6,688.1 845.1,691.2 846.7,694.4 846.5,693.8 846.3,692.9 846.8,690.9 848.6,692.2 847.8,691.1 849.5,689.6 848.6,684.5 849.5,681.1 849.8,676.4 850.2,674.7 851.7,670.2 851.6,666.8 852.3,664.1 852.8,664.7 853.3,665.3 853.1,668.1 854.9,654.5 855.3,642.1 856.2,629.9 856.3,621.2 856.7,616.3 857.3,618.5 856.9,628.0 858.1,632.2 857.9,633.3 859.5,634.2 859.1,640.5 860.4,645.9 859.9,651.3 860.9,653.5 861.7,655.0 861.7,655.0 861.9,658.1 863.5,655.6 864.1,656.3 864.7,654.2 863.7,651.4 864.5,649.7 865.2,650.5 865.9,652.7 865.7,655.9 866.6,656.5 867.1,655.9 867.6,651.2 868.1,651.5 869.2,653.4 869.7,653.0 869.3,656.3 869.7,661.7 870.5,667.3 872.1,671.4 872.0,670.7 872.0,667.5 872.2,665.5 874.1,663.9 874.3,662.9 874.5,663.4 875.7,660.6 875.3,660.2 876.2,659.1 876.4,662.8 877.2,664.6 877.1,665.2 877.9,666.3 878.5,668.8 878.5,668.5 879.4,667.5 880.1,669.0 879.7,667.3 881.0,662.7 881.1,662.4 881.2,665.8 882.2,668.7 882.2,670.0 883.7,670.7 884.1,672.6 884.1,675.8 885.5,681.5 885.2,683.7 885.3,686.7 886.6,690.4 886.8,692.1 887.6,692.3 888.5,693.3 889.1,695.0 888.6,689.9 889.3,689.0 890.2,686.1 890.3,682.3 890.1,676.8 891.7,674.5 891.4,669.4 893.1,664.6 893.1,665.6 893.2,665.1 894.2,664.0 895.1,661.0 894.5,659.4 896.1,662.7 895.3,665.0 896.7,668.5 897.2,672.5 897.3,679.8 898.4,688.7 898.7,696.3 898.7,698.1 898.7,700.1 899.3,703.1 899.9,705.0 901.5,704.0 902.1,702.1 901.3,699.8 902.3,699.2 903.0,703.3 903.2,710.0 904.7,716.5 904.3,720.6 905.4,723.5 905.6,724.2 906.5,724.6 907.1,725.6 907.2,729.3 907.4,733.1 908.4,735.6 909.0,736.8 908.3,740.0 909.9,744.2 909.1,746.5 909.9,749.0 910.3,750.6 911.2,755.5 911.4,757.7 912.0,758.7 912.3,756.0 913.0,753.7 914.2,750.4 914.6,746.7 914.2,745.1 915.4,744.6 915.3,744.7 916.6,740.8 917.7,739.2 917.3,737.6 918.0,738.4 919.1,739.2 919.6,740.5 919.1,743.5 920.5,744.6 921.1,741.5 920.6,741.9 920.9,743.5 922.6,741.6 922.6,740.2 922.8,740.3 923.9,740.1 924.1,736.3 924.2,736.5 925.0,733.1 925.2,732.1 925.4,735.1 926.9,737.5 927.0,737.4 926.6,736.5 927.5,737.1 927.7,738.9 928.9,739.7 928.7,741.7 929.3,743.6 930.9,745.0 931.6,747.7 931.2,747.3 931.6,750.2 933.0,752.8 932.6,753.4 933.1,757.0 934.3,757.0 934.5,760.0 935.0,761.5 935.3,765.5 936.3,765.8 936.3,767.1 937.2,766.3 936.6,766.1 938.1,763.1 939.0,760.4 938.5,758.0 938.8,758.3 939.9,761.2 940.6,760.8 941.0,762.2 941.7,762.8 941.5,762.3 942.6,760.3 943.6,759.9 943.8,758.5 943.3,757.8 944.6,757.2 944.6,758.1 944.8,757.0 946.2,757.9 946.4,758.1 947.4,755.2 947.7,753.8 948.4,750.8 948.7,749.9 948.1,748.6 948.7,747.5 950.5,746.8 949.7,747.6 950.8,749.2 951.6,749.4 952.4,750.6 952.2,753.9 952.8,754.3 953.4,756.7 953.1,755.8 953.8,758.0 955.0,759.8 954.7,759.3 955.3,759.5 956.4,760.0 957.4,758.8 957.6,759.7 957.8,760.8 957.8,758.4 959.1,760.5 958.8,758.1 959.5,756.2 961.1,757.1 960.9,757.5 960.8,758.6 962.1,758.9 962.8,756.9 963.0,759.6 962.8,763.8 963.4,769.1 964.6,769.1 964.2,769.6 965.2,768.5 966.0,768.1 965.8,767.0 967.7,765.1 967.1,762.7 968.3,757.6 968.6,755.6 969.6,754.3 970.1,754.8 969.6,753.7 970.2,754.7 971.7,754.2 972.1,755.0 972.3,753.8 971.8,752.8 973.3,753.3 973.4,754.9 974.4,754.2 973.7,757.8 974.8,757.8 975.3,759.9 976.5,761.0 976.6,758.7 976.7,756.9 978.0,753.6 978.4,753.2 978.8,753.6 979.5,754.3 979.1,754.3 980.5,754.0 979.9,752.6 981.4,751.0 981.1,746.8 982.1,745.1 983.0,741.6 983.2,743.3 983.5,743.5 984.4,743.3 985.0,745.5 985.6,743.8 985.8,741.4 985.8,739.0 987.0,736.0 987.0,737.2 987.0,735.6 987.3,736.3 988.5,738.7 988.2,742.5 989.5,744.3 990.4,746.7 990.7,747.9 990.6,751.4 992.0,753.1 992.5,752.0 993.1,753.9 993.4,755.5 993.0,756.6 994.4,756.9 994.3,758.9 995.4,762.4 995.4,762.9 995.4,762.1 995.8,759.9 996.8,758.0 997.7,757.0 997.5,755.3 998.5,758.0 999.4,757.4 999.1,757.2 999.7,758.1 1001.0,760.3 1001.5,762.3 1000.7,765.5 1002.4,763.0 1002.3,762.5 1002.8,763.3 1002.6,765.8 1003.2,765.3 1005.2,765.7 1005.0,764.7 1005.8,765.0 1006.3,764.9 1007.1,766.6 1006.9,766.2 1007.4,769.1 1008.6,767.5 1008.8,767.3 1008.6,763.4 1010.1,761.7 1009.3,759.9 1011.0,760.5 1011.1,759.4 1011.2,756.7 1012.3,752.7 1012.7,750.1 1012.2,749.1 1013.8,748.3 1014.2,750.3 1014.2,751.2 1014.7,750.6 1015.1,753.5 1016.2,757.3 1015.8,756.5 1017.1,756.6 1017.3,757.2 1018.1,756.9 1018.9,759.6 1018.3,763.8 1019.6,767.5 1020.4,766.2 1020.0,765.1 1021.2,762.5 1022.2,761.2 1021.8,761.2 1022.0,765.4 1023.5,767.9 1022.7,769.4 1024.2,770.3 1023.7,769.6 1024.9,768.0 1024.9,767.0 1025.3,764.0 1026.1,762.6 1026.9,759.6 1028.1,760.9 1027.9,761.5 1027.7,762.8 1028.6,764.7 1029.4,767.7 1029.2,768.1 1030.5,769.6 1030.6,770.0 1031.3,768.0 1032.5,768.8 1032.8,768.4 1032.7,765.5 1032.9,767.4 1033.3,767.9 1034.0,768.7 1035.6,766.6 1036.0,763.8 1035.5,761.7 1035.7,757.6 1036.8,754.5 1036.6,750.9 1038.4,754.7 1037.8,756.7 1038.9,757.3 1039.0,756.9 1040.3,756.7 1039.9,756.2 1041.0,758.6 1041.7,759.7 1041.8,759.7 1041.7,757.3 1042.6,757.1 1042.7,753.0 1044.2,753.9 1044.1,756.9 1044.2,760.9 1046.0,760.5" fill="none" stroke="#DF9520" stroke-width="5.9" stroke-linejoin="round" stroke-linecap="round" />
<polyline points="123.8,806.7 123.8,806.4 124.5,806.1 124.9,806.4 125.9,803.5 126.4,802.0 126.4,802.5 127.7,802.7 127.8,803.0 128.1,802.3 128.5,804.0 129.3,805.3 129.8,807.2 130.1,809.3 131.1,809.6 130.9,810.4 132.1,809.3 132.7,809.0 132.4,806.6 133.1,806.1 134.5,802.3 134.1,800.4 134.5,799.7 135.1,800.0 135.8,798.6 135.6,797.8 136.3,795.6 137.6,792.4 137.2,790.7 139.0,789.5 138.9,788.9 140.0,788.5 139.6,785.9 141.1,786.6 141.2,784.9 141.5,786.7 141.9,788.0 141.9,787.7 143.1,787.8 143.6,788.6 143.8,790.9 144.2,794.3 144.7,795.1 144.9,795.6 146.4,796.8 147.1,795.7 146.2,796.6 147.2,796.8 147.2,796.0 148.4,795.2 149.0,795.8 149.8,795.7 149.1,794.5 149.8,795.0 150.6,794.3 151.6,795.3 152.6,796.1 152.5,794.9 153.2,794.5 152.8,795.4 154.1,795.4 155.1,796.2 154.6,796.6 155.6,798.7 156.3,798.1 157.1,799.4 157.4,801.4 157.4,802.8 157.1,803.8 158.9,802.1 159.2,800.5 159.7,802.8 159.2,803.1 160.6,802.9 160.8,802.8 160.8,804.1 162.0,802.4 162.9,804.5 162.6,804.6 162.6,805.9 164.3,805.0 164.2,806.9 164.3,807.4 164.7,806.8 165.4,805.6 166.2,804.8 166.5,805.8 166.7,805.6 167.9,805.2 169.0,804.6 168.8,803.4 169.2,803.1 170.0,804.0 170.3,802.6 171.6,802.1 171.6,802.9 172.0,801.4 172.1,801.1 173.2,801.0 173.6,804.0 173.5,803.1 174.3,802.1 174.5,801.6 175.8,801.0 176.4,802.9 175.6,802.6 177.4,803.2 177.5,806.3 178.2,806.4 178.7,805.0 179.4,804.7 179.6,804.6 179.9,804.7 181.1,803.6 180.8,803.0 182.0,801.5 182.1,801.0 181.8,801.3 183.1,800.2 184.1,799.2 183.7,800.0 184.8,799.3 184.7,799.9 185.1,800.9 186.1,799.3 186.2,800.2 187.7,800.2 187.2,801.6 188.0,802.1 188.6,800.9 189.5,800.6 189.7,799.7 189.1,797.5 189.8,793.9 190.7,791.7 191.8,787.6 192.4,786.4 191.7,786.9 192.7,788.2 193.3,789.2 193.1,787.1 194.4,786.5 194.2,788.6 195.3,788.6 196.6,790.5 196.6,791.6 196.4,790.8 196.8,790.6 198.4,789.4 198.7,789.6 198.5,787.9 199.5,786.2 200.4,783.8 199.9,784.4 201.4,783.2 200.9,784.2 201.5,784.3 202.5,786.3 202.3,785.6 203.3,784.0 203.4,781.7 204.7,779.0 205.4,778.8 205.8,779.4 205.4,779.8 205.6,782.8 207.3,782.6 206.9,783.6 208.4,783.3 209.0,781.0 209.0,780.1 208.8,779.3 209.4,780.2 211.0,779.1 211.6,776.6 210.8,774.0 211.2,773.4 212.4,773.4 212.5,771.9 214.0,768.1 213.8,766.2 214.5,764.0 214.4,765.6 215.1,765.7 215.3,768.5 216.6,768.6 217.4,770.0 217.9,770.7 218.6,769.8 217.8,769.3 219.3,769.7 220.1,768.0 220.6,766.9 220.1,762.4 221.3,759.2 221.5,753.2 221.1,749.6 222.7,748.4 223.3,747.0 223.8,741.7 224.2,741.8 224.1,739.3 225.1,737.9 224.8,740.0 226.5,740.3 226.9,738.4 226.6,736.9 228.0,737.1 227.2,738.4 228.5,741.7 228.5,744.3 228.7,744.4 229.8,744.9 230.6,746.8 230.6,750.6 231.6,753.8 231.4,754.9 232.6,757.2 233.2,754.9 233.3,754.9 233.4,756.1 234.4,755.1 234.2,756.1 235.7,755.7 236.1,753.3 236.7,753.2 236.6,753.8 237.0,754.9 237.7,755.8 238.0,756.3 238.7,757.5 239.8,758.6 240.0,759.2 239.9,758.6 241.6,756.6 241.9,757.6 241.3,755.5 242.1,756.2 242.1,756.7 243.7,756.8 243.4,757.9 244.9,755.2 244.6,753.7 245.0,751.2 245.5,752.3 246.4,753.9 246.6,758.3 247.4,758.6 248.3,760.4 247.9,761.9 248.6,763.2 249.4,764.0 249.6,763.5 249.6,755.1 251.5,750.1 250.7,742.5 251.9,736.1 252.6,726.8 252.4,717.7 253.8,709.2 253.8,700.2 255.0,692.9 255.5,690.3 254.7,687.5 255.3,687.4 256.8,688.7 256.4,691.1 256.7,694.2 258.5,702.9 258.1,711.9 259.2,721.1 260.0,730.2 260.0,739.7 260.4,748.5 260.5,749.8 260.6,752.2 261.7,756.0 261.7,762.0 262.4,766.0 263.1,767.7 264.1,762.4 263.9,754.9 264.7,747.7 265.3,744.1 266.5,738.4 266.1,731.0 266.4,731.0 267.7,732.0 268.2,732.2 268.6,734.6 269.3,734.1 269.9,734.5 270.0,733.0 270.2,730.1 271.1,732.3 271.3,734.7 272.5,738.1 272.5,743.7 272.1,745.7 273.7,749.0 274.3,750.1 273.6,750.2 274.5,747.4 275.5,745.7 276.5,743.0 276.6,736.5 277.1,732.5 277.0,730.4 278.5,730.9 278.5,730.2 278.5,724.7 279.0,721.4 280.2,718.0 279.9,720.0 280.1,721.7 281.5,721.2 281.5,714.3 283.0,708.0 282.3,702.0 283.0,707.8 283.9,710.9 283.9,715.2 284.2,715.4 285.5,716.6 285.6,716.3 287.1,718.8 286.2,721.5 286.7,719.9 288.1,720.8 288.2,722.1 289.1,723.3 289.3,720.0 289.2,715.5 290.6,711.5 291.1,713.0 291.3,714.9 291.9,718.6 291.9,720.6 293.1,722.9 292.9,725.2 293.6,724.9 294.5,724.1 294.6,724.7 296.0,723.3 295.3,722.8 296.8,723.2 297.3,728.4 297.9,730.3 297.3,734.0 298.5,733.9 299.1,735.2 299.8,735.2 299.4,733.6 301.1,732.5 300.2,730.9 301.4,730.2 301.5,729.3 302.9,729.4 302.6,729.0 302.7,728.5 303.1,728.1 303.8,725.7 305.7,726.3 305.6,725.6 306.4,721.9 306.9,719.2 306.2,713.9 307.0,715.5 308.5,718.1 307.9,716.8 309.4,715.8 310.2,715.9 310.1,713.7 310.2,715.3 310.4,715.3 311.3,716.3 312.1,715.6 312.9,715.0 312.8,715.2 313.7,715.5 314.5,715.5 314.2,715.6 315.5,715.4 315.6,713.7 315.7,714.5 316.0,714.5 317.5,716.8 317.8,718.9 318.4,720.3 318.7,719.6 319.3,721.5 319.7,720.2 319.8,720.0 320.7,720.9 321.1,719.4 320.9,718.8 322.5,721.2 322.8,720.7 322.9,720.6 322.7,721.4 324.0,723.3 323.7,726.9 324.1,728.1 325.0,728.6 326.6,731.3 326.4,731.2 326.9,732.8 328.1,735.2 327.7,734.1 328.6,736.6 329.4,738.6 329.3,739.2 329.4,742.5 330.6,742.9 331.0,744.0 330.9,743.6 332.3,743.7 332.6,743.2 332.7,743.9 333.5,745.4 333.2,745.2 334.5,743.3 335.2,744.2 335.9,741.5 336.0,741.0 335.7,740.7 336.9,743.5 337.7,747.0 337.7,750.5 338.4,753.1 338.5,756.4 339.1,761.1 340.2,764.7 340.8,765.1 340.1,763.2 341.8,761.3 342.6,760.0 342.3,757.6 343.5,756.4 343.8,754.2 343.5,756.6 343.8,755.4 344.4,757.0 344.7,758.7 345.6,757.3 346.1,756.3 347.2,752.8 348.1,751.3 347.5,750.4 348.5,748.3 348.5,747.3 349.4,745.8 350.0,744.6 350.2,742.7 351.7,738.9 350.8,735.6 352.3,731.8 351.7,729.5 352.8,726.2 353.0,724.4 354.4,722.2 354.4,720.2 355.1,721.1 354.9,723.5 355.1,725.0 356.0,726.9 357.4,726.0 357.6,729.2 357.7,730.6 358.6,728.3 358.5,728.5 359.0,726.7 360.5,724.4 359.6,723.8 361.3,725.2 361.8,727.7 362.5,729.8 361.6,730.7 362.7,728.4 363.1,727.2 364.7,726.6 364.7,729.4 364.7,728.9 365.3,728.0 365.9,727.5 366.2,728.9 367.4,728.9 367.3,730.3 368.5,729.4 368.0,730.2 369.5,731.0 369.2,732.3 369.5,731.0 369.9,731.3 371.1,733.6 370.7,732.5 372.6,732.6 372.9,733.3 372.4,733.8 372.7,735.8 373.9,735.3 374.8,734.8 374.5,737.1 375.4,735.9 376.1,735.4 376.1,735.6 376.8,735.7 377.3,732.8 377.4,731.5 378.5,730.6 378.5,727.9 379.0,725.4 380.2,725.7 379.6,727.7 381.2,730.2 381.4,732.2 382.6,738.7 382.3,745.1 383.4,751.7 383.8,756.7 384.0,762.0 384.5,767.6 384.9,770.1 386.0,772.9 386.5,773.9 385.6,774.2 386.6,776.6 387.5,778.0 388.5,780.6 388.5,782.4 389.2,787.1 389.3,791.3 389.1,796.0 389.9,794.2 391.2,788.2 391.1,783.8 391.2,778.4 391.7,774.7 392.4,773.0 393.3,769.6 394.4,767.3 393.9,769.3 395.0,770.0 395.7,772.4 396.2,773.9 396.0,775.6 397.3,775.8 397.5,778.4 397.1,781.5 398.1,784.1 399.4,784.3 399.2,785.2 399.3,786.8 399.6,790.8 401.1,793.2 402.1,794.9 402.6,792.0 401.8,789.4 403.2,788.7 402.6,787.1 403.9,785.6 404.8,784.2 404.2,783.8 405.7,782.1 406.1,782.7 406.8,784.9 407.4,785.0 407.5,786.6 408.3,788.0 408.3,789.1 408.8,790.0 410.0,789.1 409.3,787.6 409.9,786.9 410.2,781.4 411.2,777.6 411.4,774.8 412.8,772.4 412.7,771.7 413.8,772.1 413.3,772.0 413.9,773.3 414.3,776.5 415.0,777.4 416.3,778.6 416.4,781.4 416.1,783.7 417.0,787.4 418.7,790.1 418.7,790.5 418.9,792.2 419.7,793.7 419.1,796.9 420.0,802.1 420.9,805.9 421.8,811.7 421.7,815.1 422.3,816.5 423.4,814.5 423.6,815.1 423.3,812.8 424.8,810.5 424.8,807.9 425.1,806.2 425.6,808.1 426.9,812.2 426.2,813.9 427.9,812.8 427.3,813.7 428.8,810.6 429.6,808.5 429.6,806.7 430.1,804.5 430.0,803.3 430.2,800.2 432.2,798.4 432.5,796.5 431.8,797.6 432.6,797.9 433.4,799.1 433.4,797.3 434.5,796.0 434.5,794.0 435.7,795.5 435.4,798.8 436.3,801.1 437.6,800.7 438.0,802.0 437.2,799.1 438.5,797.3 439.1,795.5 439.8,794.5 439.3,796.2 440.1,798.3 440.3,799.2 441.0,799.3 441.1,801.1 442.2,802.0 442.3,804.4 443.9,805.1 444.6,805.2 444.4,805.3 444.5,804.8 445.8,804.8 446.4,806.8 445.9,807.5 447.6,805.2 447.0,801.8 448.4,798.2 448.6,796.9 448.1,795.3 448.6,792.5 449.9,791.4 450.9,788.9 451.3,788.6 451.8,790.5 452.1,790.8 452.8,790.6 452.6,789.2 452.8,787.5 454.6,785.3 455.0,785.5 455.3,787.1 454.7,787.6 456.0,786.8 456.5,787.3 456.7,784.5 457.7,783.4 457.6,783.5 458.1,785.6 458.2,786.5 459.6,788.7 459.8,791.2 460.3,794.5 461.0,796.6 461.1,799.4 462.3,800.6 462.9,802.1 462.3,802.4 463.5,802.4 463.5,801.3 464.4,802.5 464.8,799.9 465.0,796.2 466.4,791.8 466.1,790.1 467.0,787.1 467.6,783.7 468.2,783.5 467.8,780.4 469.0,778.0 470.0,777.1 469.3,774.4 470.4,774.3 471.1,771.4 471.5,768.9 472.1,767.1 472.8,767.1 472.7,766.9 472.9,764.3 474.0,762.9 474.3,762.1 474.7,761.6 475.4,757.2 475.5,756.1 475.9,754.6 476.8,755.1 477.6,755.3 477.4,754.5 479.2,754.2 479.0,753.7 480.0,754.5 480.5,757.4 480.2,758.2 480.2,757.9 481.5,756.1 481.6,757.1 481.7,755.2 482.7,755.2 483.7,756.3 484.3,756.2 484.8,755.7 485.3,754.0 485.6,756.1 485.8,758.2 486.9,761.4 487.5,762.2 486.7,761.3 488.5,759.6 488.3,756.3 488.4,754.4 489.3,753.6 490.1,752.6 490.8,748.9 490.7,746.7 491.6,743.5 492.3,744.8 492.1,746.2 493.1,746.3 492.6,745.3 494.5,745.8 495.1,745.7 495.0,745.2 495.6,746.5 496.2,747.4 496.0,749.8 496.8,753.1 498.1,756.1 498.0,757.5 498.4,756.3 499.2,757.5 499.5,759.1 500.5,758.4 501.1,760.2 501.2,758.9 501.0,759.1 502.5,761.4 502.1,761.4 502.6,761.0 502.9,761.2 504.6,764.4 504.9,764.5 505.2,767.1 505.4,767.8 506.2,770.7 505.7,773.0 506.7,773.1 508.2,774.4 508.4,777.4 508.8,777.2 508.4,777.6 510.2,777.2 509.8,776.8 511.0,777.8 510.3,778.9 511.6,778.1 511.1,777.8 512.0,778.1 513.1,776.8 513.6,778.2 513.1,777.2 514.4,779.5 515.0,778.8 515.3,779.4 515.4,779.8 516.7,778.3 517.1,776.6 517.7,776.5 517.8,777.3 518.8,781.6 519.4,781.5 519.4,782.9 519.4,784.0 520.2,787.5 521.4,786.8 521.2,786.9 521.1,788.8 522.4,793.3 522.3,795.2 522.7,795.1 523.1,797.0 525.1,798.4 524.5,796.7 524.6,794.5 525.9,793.0 526.4,791.9 526.8,788.0 526.6,785.5 528.4,787.5 529.1,788.3 529.7,791.7 529.1,792.8 529.3,794.0 530.9,794.2 531.3,795.6 532.0,796.1 531.6,797.2 533.1,798.6 532.5,797.5 533.0,798.8 533.4,797.7 534.8,798.6 535.7,797.3 535.1,799.4 536.2,798.6 536.0,800.6 536.5,799.5 537.7,802.0 538.2,803.5 539.0,805.4 539.6,808.5 539.7,811.4 540.7,814.3 541.1,816.2 540.6,817.4 541.2,817.6 541.6,819.7 541.7,819.0 543.6,819.6 542.8,818.8 544.4,819.5 544.3,820.4 544.9,821.8 546.1,823.8 546.6,821.7 546.3,820.9 546.5,820.4 548.0,817.5 548.5,815.7 548.6,813.1 548.5,813.4 549.9,814.0 550.0,812.8 549.6,812.6 551.5,812.2 551.7,812.2 551.5,814.7 552.0,816.4 553.1,816.9 553.5,817.4 553.9,815.1 554.0,815.9 554.4,816.3 555.5,814.5 555.9,814.6 556.5,810.8 557.3,807.4 557.1,805.1 557.7,802.4 558.5,798.9 558.4,798.1 559.9,797.7 560.5,794.7 560.9,793.2 561.5,793.0 561.5,794.6 562.3,794.5 562.1,793.1 563.5,792.2 564.0,790.7 563.8,790.8 564.1,792.2 565.4,793.5 565.2,792.3 565.9,795.2 566.9,795.8 566.8,796.4 567.8,799.2 567.1,800.3 567.8,801.5 568.4,805.6 569.7,806.4 570.2,809.5 571.0,808.8 570.1,807.6 570.6,806.9 572.0,806.2 572.0,804.4 572.7,804.7 572.7,803.9 574.4,803.9 574.9,803.5 575.0,804.1 574.9,805.6 576.4,804.8 577.0,805.5 577.2,805.8 576.9,805.7 578.4,805.9 578.2,804.5 579.3,805.7 578.8,805.8 580.3,808.9 579.9,807.4 580.3,805.1 580.7,806.3 581.4,807.7 581.9,808.6 583.3,809.0 583.0,808.3 583.5,807.9 584.3,808.9 584.6,809.0 586.0,809.3 586.4,811.3 587.2,812.8 586.5,811.1 587.9,810.8 588.4,809.9 587.9,809.2 589.5,808.7 588.9,809.5 589.5,812.3 590.3,813.7 590.9,814.6 590.8,813.8 591.4,816.3 592.5,817.5 592.7,821.3 593.1,822.5 594.5,824.7 594.5,825.2 594.6,824.7 595.9,824.0 596.4,824.5 597.1,822.1 596.6,820.5 596.7,819.6 598.6,818.5 599.1,817.8 598.5,818.7 598.7,819.8 600.3,819.8 600.8,819.9 601.3,820.2 601.5,821.7 601.4,821.7 602.4,821.6 603.4,822.1 602.7,821.9 604.0,822.6 604.6,824.8 604.2,824.9 604.8,826.6 606.1,826.6 606.3,826.6 607.1,824.9 607.9,825.7 608.2,828.7 608.0,829.7 608.6,829.9 610.1,830.8 610.0,831.9 610.2,833.7 611.2,834.4 610.9,837.0 611.1,840.4 612.4,841.3 612.9,840.7 613.4,837.5 614.0,835.8 614.7,834.3 615.0,835.0 615.7,833.2 616.6,831.8 616.3,834.4 616.5,835.8 617.7,837.5 618.1,835.1 618.6,835.4 618.6,834.9 619.5,836.2 620.2,833.3 619.8,829.4 620.7,828.9 621.5,829.0 621.5,829.2 622.8,831.0 622.2,831.2 622.7,831.4 623.5,829.8 624.1,830.2 624.2,827.5 625.8,827.5 625.8,827.5 625.8,826.2 627.4,822.4 627.3,820.8 627.7,817.1 627.9,815.7 629.2,813.1 630.2,811.0 629.1,808.5 631.0,806.8 630.8,804.7 632.0,804.1 632.2,801.6 632.7,800.8 633.1,804.4 633.0,803.9 634.5,805.8 634.0,806.5 635.3,807.2 635.6,807.9 636.5,807.1 635.6,804.8 637.1,805.4 637.9,807.3 637.5,807.1 638.5,810.2 639.5,809.6 639.0,806.6 639.4,805.1 641.0,805.8 640.9,805.7 642.1,806.3 641.7,808.1 642.0,807.9 643.7,808.7 642.9,810.0 643.3,810.4 644.4,812.9 645.2,814.1 645.5,813.9 646.6,815.4 645.9,816.3 647.2,816.7 647.1,817.7 648.6,817.3 647.7,815.4 648.5,815.6 649.2,816.0 649.8,815.7 650.2,815.3 650.9,815.0 651.6,815.2 652.6,816.7 652.6,818.5 652.7,819.4 653.6,820.1 654.5,821.3 655.0,821.9 655.6,821.1 655.4,822.2 655.6,822.3 656.2,823.5 656.6,823.5 658.2,821.6 658.2,819.6 659.2,820.5 659.2,820.2 660.0,820.4 659.9,820.8 660.5,821.2 660.6,819.7 661.5,821.5 661.8,822.4 663.0,824.0 662.2,824.0 663.5,825.7 663.8,825.4 663.9,825.5 664.1,827.4 665.4,826.4 666.3,827.5 666.4,826.9 666.9,827.4 667.3,827.0 668.6,824.8 668.5,824.6 668.9,826.1 668.7,825.9 669.2,826.2 670.3,825.6 670.7,822.9 671.0,821.7 671.6,822.7 671.6,820.2 672.8,818.9 673.3,818.9 673.5,823.1 674.4,825.2 674.8,825.4 675.3,826.1 675.3,827.6 676.2,829.2 676.3,829.3 678.1,830.0 677.6,832.3 678.4,830.8 678.5,831.7 679.3,832.6 679.2,831.0 680.4,830.4 680.7,830.1 681.4,831.2 681.2,830.1 681.9,830.6 683.2,828.6 683.4,828.7 684.1,828.2 684.3,826.3 684.9,822.7 684.8,820.7 685.8,818.2 686.4,816.8 686.7,817.5 687.1,820.0 687.1,820.1 688.9,821.0 689.2,823.3 689.7,826.5 690.5,827.5 690.6,826.1 691.1,825.4 691.7,828.5 692.0,830.2 692.0,831.1 692.2,829.9 693.8,829.3 694.3,828.0 694.9,827.2 694.2,828.2 695.6,826.7 695.1,825.7 696.7,825.4 696.3,825.5 696.6,823.7 697.6,820.9 698.2,819.6 699.6,820.0 698.8,821.4 699.6,825.0 700.9,825.9 701.1,825.2 701.8,824.6 702.1,827.1 703.1,826.8 703.3,826.2 702.9,828.9 703.3,829.3 705.1,829.2 704.4,828.2 704.8,828.1 706.6,828.3 706.4,829.4 707.1,830.1 707.1,830.2 708.5,829.6 709.1,829.0 708.8,829.2 708.8,827.7 710.2,827.3 710.5,828.6 711.0,828.7 711.6,831.6 711.2,831.4 712.0,830.6 713.5,830.3 713.8,827.1 713.8,826.8 715.0,825.9 715.6,823.8 715.3,825.0 716.4,825.0 716.4,823.6 717.0,823.4 717.0,823.9 717.5,823.1 718.7,821.7 718.5,822.9 719.7,824.2 720.0,824.8 720.6,823.9 720.9,823.7 721.4,825.8 722.4,827.2 722.2,827.6 722.8,828.6 723.9,829.6 723.2,831.6 724.1,831.8 725.1,832.6 724.9,833.2 725.9,834.5 726.2,835.3 727.7,835.4 727.7,835.8 728.2,836.7 728.9,837.5 729.2,837.7 728.7,836.3 730.2,834.7 730.8,834.3 731.6,836.7 730.9,837.1 731.1,835.3 733.2,834.9 732.9,833.7 733.8,832.6 733.5,832.6 734.7,834.2 735.2,834.8 735.7,834.3 736.1,835.8 736.3,835.9 736.8,835.4 737.5,836.3 738.1,837.5 739.2,838.8 739.1,838.8 739.8,839.1 739.5,836.4 740.6,836.0 741.4,834.7 741.0,834.1 741.4,834.5 743.1,835.5 743.0,835.9 744.1,834.4 744.4,837.3 743.7,839.7 744.9,840.9 744.9,842.7 745.9,845.0 747.0,846.3 746.4,844.2 746.8,843.6 747.1,841.1 748.9,842.7 748.8,842.1 749.1,842.7 749.7,842.7 750.7,843.0 750.3,844.3 751.8,842.5 752.5,842.6 752.5,843.6 753.1,843.3 753.8,844.2 754.7,844.4 755.2,850.6 754.4,854.2 755.8,858.2 755.1,859.3 757.1,858.9 756.2,860.0 757.8,861.7 757.3,864.2 757.8,863.2 759.0,860.6 758.9,856.4 760.2,854.5 760.0,854.8 761.2,853.8 761.5,854.2 762.3,856.4 762.2,856.7 763.0,856.8 763.4,855.0 763.5,853.3 764.2,851.7 764.2,851.2 765.5,852.7 765.6,853.1 766.4,851.0 766.4,851.3 766.6,852.3 768.5,852.6 769.1,850.5 768.6,852.0 769.9,851.4 770.4,849.8 770.6,848.9 770.8,847.2 771.4,847.4 771.5,845.4 772.0,844.7 772.5,844.8 772.9,844.7 773.2,844.9 774.1,847.3 775.0,849.1 775.8,849.5 776.2,848.9 776.9,848.2 777.6,851.5 776.8,852.8 777.4,855.5 778.1,857.9 778.2,858.8 779.9,858.0 780.2,856.7 780.5,857.0 780.5,861.7 781.7,869.0 781.2,873.0 781.9,870.9 782.9,861.4 784.1,851.9 783.9,850.3 784.8,855.6 785.1,859.5 785.0,862.5 785.1,866.2 787.1,865.9 786.4,866.9 787.3,868.4 788.4,867.0 789.2,866.7 789.4,862.6 788.6,859.7 790.3,856.2 790.7,857.8 790.8,859.0 791.2,859.2 791.3,858.7 793.0,859.4 792.5,858.3 792.8,855.3 793.3,851.7 795.2,852.7 795.2,855.1 795.9,857.2 796.5,858.8 796.7,859.2 797.3,857.9 796.7,859.3 798.2,860.6 798.9,863.4 798.8,864.8 800.1,865.0 799.1,863.0 799.6,863.9 800.7,863.4 802.1,862.9 801.2,861.1 802.2,861.4 803.5,861.6 804.1,859.2 803.7,856.8 803.9,855.1 805.4,852.7 805.1,854.7 805.7,858.2 805.8,858.9 806.2,857.4 807.2,856.7 807.8,855.5 809.2,853.6 809.0,853.4 809.6,850.6 810.2,850.7 810.6,849.0 811.4,850.5 810.9,850.1 812.2,849.6 813.0,848.2 812.2,848.9 814.0,850.2 813.5,851.6 815.0,849.9 814.8,850.2 815.0,848.3 816.5,847.2 816.9,845.4 817.2,845.3 817.6,845.2 818.6,843.2 817.9,841.6 819.2,841.7 820.1,841.7 819.2,840.2 820.1,837.6 820.7,837.7 821.1,835.1 822.3,833.7 822.5,832.0 822.6,834.1 823.6,832.2 823.4,830.1 823.6,830.0 824.8,828.1 824.7,824.2 826.4,821.9 827.1,818.4 827.3,816.1 827.8,812.8 827.6,808.3 827.6,803.6 829.3,802.2 829.2,802.3 830.0,801.5 830.3,799.7 831.4,800.9 830.7,804.3 832.2,806.8 833.2,803.9 832.9,804.8 832.6,802.3 834.2,803.6 833.7,802.8 835.4,803.4 835.5,803.3 835.4,803.8 835.8,803.4 836.8,803.5 837.3,803.6 837.8,803.0 838.8,803.6 838.1,804.1 838.8,805.8 839.6,805.5 840.0,807.8 840.6,811.0 841.0,813.9 842.4,813.9 841.6,816.6 843.3,819.2 843.7,820.8 843.5,824.3 845.2,826.0 845.4,826.5 845.7,826.5 846.3,829.2 846.7,831.3 847.5,832.1 847.7,833.3 847.9,833.8 848.7,834.0 848.2,832.8 850.0,833.8 849.6,833.3 851.1,834.6 850.2,834.7 851.4,834.4 852.1,831.1 852.3,829.4 852.3,827.4 853.1,827.4 854.5,825.2 855.2,824.4 855.3,825.5 855.7,826.6 856.0,825.4 856.4,826.4 857.7,828.4 857.9,828.8 857.8,829.0 858.0,831.9 858.1,835.4 860.2,835.5 859.1,834.1 859.7,833.7 860.9,837.3 861.7,838.0 862.0,840.8 863.1,842.3 863.5,846.1 864.1,847.6 864.3,843.9 863.9,841.5 864.9,840.1 865.4,838.9 866.0,838.6 866.8,839.1 866.7,836.3 868.1,834.0 867.5,834.5 868.4,833.8 869.1,833.1 868.9,834.6 870.2,836.2 869.8,839.9 871.5,841.9 872.2,841.3 871.4,839.3 872.3,840.1 872.9,840.7 872.6,841.2 873.2,841.1 873.7,844.3 874.3,845.1 875.7,847.1 876.3,847.6 875.9,847.1 877.6,845.6 877.9,846.4 877.6,847.7 877.7,846.1 879.3,840.2 878.7,835.0 879.6,829.2 879.7,827.2 880.9,824.6 881.0,821.9 882.0,820.8 882.3,818.1 883.0,818.4 884.1,821.7 883.3,825.6 884.5,827.5 884.5,828.1 885.2,829.8 885.2,829.0 886.8,828.5 886.3,825.9 887.7,824.2 888.2,821.7 888.0,824.5 889.0,823.8 888.9,826.5 889.8,826.1 889.8,829.1 890.2,833.9 891.0,837.5 891.7,839.5 892.2,841.8 892.8,843.4 892.9,843.7 894.4,846.3 894.0,849.3 894.6,849.5 894.7,848.9 895.8,848.8 897.0,848.4 897.4,842.6 896.9,841.0 898.5,838.1 898.6,837.2 898.9,838.2 899.2,838.7 899.5,838.7 899.8,836.1 900.4,833.8 901.2,832.8 902.1,832.4 901.6,831.3 903.7,826.8 903.6,823.5 903.6,819.2 904.0,815.9 904.7,820.5 905.1,822.7 906.0,824.5 906.9,827.5 906.3,832.6 906.7,834.6 907.5,836.8 908.2,839.9 909.6,843.5 910.2,845.4 910.2,845.6 910.2,848.2 910.5,849.4 910.9,850.1 912.6,846.1 912.0,840.4 912.6,836.7 913.2,834.7 914.1,837.9 914.4,840.3 915.4,842.8 915.8,846.6 916.1,846.9 915.9,844.6 917.1,840.3 917.8,837.4 918.2,836.6 917.6,835.8 918.6,835.4 919.5,832.5 920.1,831.7 921.0,831.1 920.7,835.0 921.6,837.8 921.1,837.5 923.1,841.9 923.5,843.7 924.1,846.4 923.5,845.2 923.6,844.2 924.6,841.6 925.3,842.5 925.3,840.7 926.2,840.1 926.1,840.4 927.5,841.4 928.1,839.4 927.8,839.4 928.5,835.9 930.0,835.0 929.3,834.9 931.1,835.2 930.4,835.3 931.6,835.9 931.6,836.8 932.3,837.3 932.3,839.5 934.1,841.3 933.5,842.2 934.1,844.0 934.9,847.3 935.3,848.8 935.4,849.8 936.7,849.9 936.5,849.4 936.9,847.2 938.1,847.3 938.1,845.1 938.2,843.9 939.4,841.8 940.0,838.7 940.3,835.8 940.4,833.9 942.0,831.8 941.9,829.2 942.7,825.6 942.4,821.0 943.2,820.4 944.0,819.8 944.7,820.8 945.5,818.8 945.5,818.5 946.2,813.4 947.1,808.9 946.9,804.7 948.1,802.0 948.0,800.3 949.0,798.1 949.2,798.7 949.0,795.7 949.7,795.6 949.7,797.9 950.7,796.3 950.9,796.9 952.4,798.1 952.2,800.5 953.2,803.6 954.0,805.5 954.2,808.6 953.9,811.1 955.3,814.5 955.5,817.3 956.2,820.2 956.3,822.4 957.5,826.2 956.6,828.3 957.2,829.9 958.6,832.8 959.0,832.4 959.4,828.0 959.4,826.3 959.8,823.6 960.8,819.5 961.2,817.9 961.9,818.3 962.8,819.1 963.5,818.3 963.9,819.3 963.7,818.9 964.4,818.2 964.2,818.7 964.8,816.6 965.9,817.5 966.5,817.8 967.0,817.7 967.9,820.7 967.9,822.0 967.7,824.6 968.4,826.1 969.0,825.2 970.6,824.3 970.0,821.0 970.5,820.8 971.2,818.1 972.4,817.9 971.9,816.9 972.2,815.3 973.8,814.0 973.1,812.7 974.8,813.6 974.1,815.1 975.8,815.7 975.2,814.3 975.7,815.4 976.6,814.0 976.8,813.6 978.3,812.9 977.7,811.9 978.6,812.5 979.1,815.5 979.9,815.7 979.7,817.5 980.6,819.4 980.8,821.2 981.9,818.3 983.1,818.1 983.5,817.0 983.8,815.1 983.9,814.6 983.6,816.5 984.9,817.7 985.3,818.7 986.2,817.6 986.6,817.7 986.9,821.0 987.8,821.3 988.5,821.5 989.0,821.2 989.5,821.5 989.4,823.0 990.3,822.0 989.8,822.8 990.3,821.2 990.7,822.6 991.4,822.5 991.9,822.4 993.4,821.0 994.1,817.0 994.3,816.3 994.1,814.5 994.6,811.8 995.9,812.0 995.5,807.9 996.4,806.4 996.3,803.9 997.1,804.6 997.6,805.5 998.8,807.5 998.6,807.3 998.7,805.9 999.4,807.6 1000.1,807.6 1001.2,806.3 1000.6,807.4 1002.6,808.8 1002.3,807.9 1003.2,807.3 1003.3,804.9 1003.6,802.2 1004.1,797.9 1004.5,795.4 1004.7,795.7 1005.5,794.4 1007.2,792.1 1007.1,791.4 1006.7,793.8 1007.2,794.1 1008.7,796.5 1009.0,798.3 1009.4,797.2 1010.6,799.7 1009.7,801.2 1010.9,802.2 1010.7,802.3 1012.2,803.2 1012.9,804.1 1012.6,805.2 1012.8,806.3 1014.0,806.7 1014.8,806.1 1014.8,804.9 1015.0,804.1 1016.3,804.0 1016.0,800.6 1016.5,799.3 1016.9,796.1 1017.3,793.5 1017.7,790.0 1019.1,787.7 1020.0,784.0 1020.6,783.9 1020.8,781.4 1020.3,781.9 1022.0,780.7 1021.2,780.5 1022.4,778.5 1023.4,780.7 1023.0,782.8 1024.3,783.3 1025.1,784.6 1024.6,786.6 1024.6,788.8 1026.6,788.3 1025.8,786.5 1026.2,784.2 1026.7,785.4 1027.9,787.3 1028.1,789.0 1028.9,788.5 1028.8,787.3 1029.4,788.8 1030.8,790.2 1030.9,788.5 1030.8,788.8 1031.1,788.0 1032.5,785.0 1033.1,784.7 1034.0,784.5 1034.4,785.3 1034.0,787.2 1034.7,786.3 1036.1,785.8 1035.4,784.4 1037.0,785.0 1037.5,785.6 1037.2,786.6 1038.4,787.3 1038.2,790.1 1038.1,791.3 1039.5,790.1 1039.7,789.5 1041.1,788.5 1041.5,791.2 1040.8,791.5 1042.6,792.0 1041.9,793.0 1043.5,794.8 1043.9,793.6 1043.3,793.6" fill="none" stroke="#9DB5D4" stroke-width="5.9" stroke-linejoin="round" stroke-linecap="round" />
<rect x="335.8" y="600.6" width="475.7" height="29.4" rx="7" fill="#fff" stroke="#bcbcbc" stroke-width="1.1"/>
<line x1="352.0" y1="614.6" x2="391.6" y2="614.6" stroke="#DF9520" stroke-width="5.4" stroke-linecap="round"/>
<text x="395.5" y="621.0" font-size="16.4" font-weight="normal" text-anchor="start" fill="#1a1a1a" textLength="103.8" lengthAdjust="spacingAndGlyphs" >SPREAD CL-US</text>
<line x1="571.2" y1="614.6" x2="603.2" y2="614.6" stroke="#9DB5D4" stroke-width="5.4" stroke-linecap="round"/>
<text x="608.4" y="621.0" font-size="16.4" font-weight="normal" text-anchor="start" fill="#1a1a1a" textLength="190.7" lengthAdjust="spacingAndGlyphs" >PREMIO POR PLAZO EE. UU.</text>
<text x="151.1" y="911.3" font-size="16.6" font-weight="normal" text-anchor="middle" fill="#222" textLength="17.6" lengthAdjust="spacingAndGlyphs" >06</text>
<text x="197.5" y="911.3" font-size="16.6" font-weight="normal" text-anchor="middle" fill="#222" textLength="17.6" lengthAdjust="spacingAndGlyphs" >07</text>
<text x="243.9" y="911.3" font-size="16.6" font-weight="normal" text-anchor="middle" fill="#222" textLength="17.6" lengthAdjust="spacingAndGlyphs" >08</text>
<text x="290.4" y="911.3" font-size="16.6" font-weight="normal" text-anchor="middle" fill="#222" textLength="17.6" lengthAdjust="spacingAndGlyphs" >09</text>
<text x="336.8" y="911.3" font-size="16.6" font-weight="normal" text-anchor="middle" fill="#222" textLength="17.6" lengthAdjust="spacingAndGlyphs" >10</text>
<text x="383.2" y="911.3" font-size="16.6" font-weight="normal" text-anchor="middle" fill="#222" textLength="17.6" lengthAdjust="spacingAndGlyphs" >11</text>
<text x="429.6" y="911.3" font-size="16.6" font-weight="normal" text-anchor="middle" fill="#222" textLength="17.6" lengthAdjust="spacingAndGlyphs" >12</text>
<text x="476.0" y="911.3" font-size="16.6" font-weight="normal" text-anchor="middle" fill="#222" textLength="17.6" lengthAdjust="spacingAndGlyphs" >13</text>
<text x="522.5" y="911.3" font-size="16.6" font-weight="normal" text-anchor="middle" fill="#222" textLength="17.6" lengthAdjust="spacingAndGlyphs" >14</text>
<text x="568.9" y="911.3" font-size="16.6" font-weight="normal" text-anchor="middle" fill="#222" textLength="17.6" lengthAdjust="spacingAndGlyphs" >15</text>
<text x="615.3" y="911.3" font-size="16.6" font-weight="normal" text-anchor="middle" fill="#222" textLength="17.6" lengthAdjust="spacingAndGlyphs" >16</text>
<text x="661.7" y="911.3" font-size="16.6" font-weight="normal" text-anchor="middle" fill="#222" textLength="17.6" lengthAdjust="spacingAndGlyphs" >17</text>
<text x="708.1" y="911.3" font-size="16.6" font-weight="normal" text-anchor="middle" fill="#222" textLength="17.6" lengthAdjust="spacingAndGlyphs" >18</text>
<text x="754.6" y="911.3" font-size="16.6" font-weight="normal" text-anchor="middle" fill="#222" textLength="17.6" lengthAdjust="spacingAndGlyphs" >19</text>
<text x="801.0" y="911.3" font-size="16.6" font-weight="normal" text-anchor="middle" fill="#222" textLength="17.6" lengthAdjust="spacingAndGlyphs" >20</text>
<text x="847.4" y="911.3" font-size="16.6" font-weight="normal" text-anchor="middle" fill="#222" textLength="17.6" lengthAdjust="spacingAndGlyphs" >21</text>
<text x="893.8" y="911.3" font-size="16.6" font-weight="normal" text-anchor="middle" fill="#222" textLength="17.6" lengthAdjust="spacingAndGlyphs" >22</text>
<text x="940.2" y="911.3" font-size="16.6" font-weight="normal" text-anchor="middle" fill="#222" textLength="17.6" lengthAdjust="spacingAndGlyphs" >23</text>
<text x="986.7" y="911.3" font-size="16.6" font-weight="normal" text-anchor="middle" fill="#222" textLength="17.6" lengthAdjust="spacingAndGlyphs" >24</text>
<text x="1033.1" y="911.3" font-size="16.6" font-weight="normal" text-anchor="middle" fill="#222" textLength="17.6" lengthAdjust="spacingAndGlyphs" >25</text>
<text x="1037.5" y="941.0" font-size="13" font-weight="normal" text-anchor="end" fill="#222" textLength="712.7" lengthAdjust="spacingAndGlyphs" >FUENTE: BANCO CENTRAL DE CHILE EN BASE A INFORMACIÓN DE BLOOMBERG Y FEDERAL RESERVE BANK OF NEW YORK.</text>
<text x="402.4" y="994.1" font-size="23.3" font-weight="bold" text-anchor="start" fill="#1a1a1a" textLength="638.0" lengthAdjust="spacingAndGlyphs" >RESPUESTA DE LA TASA DE INTERÉS NOMINAL A 10 AÑOS DE CHILE</text>
<text x="402.4" y="1019.4" font-size="23.3" font-weight="bold" text-anchor="start" fill="#1a1a1a" textLength="614.6" lengthAdjust="spacingAndGlyphs" >ANTE UN SHOCK DE 100 PB DE PREMIO POR PLAZO EN EE. UU. (*)</text>
<text x="403.3" y="1045.0" font-size="16" font-weight="normal" text-anchor="start" fill="#1a1a1a" textLength="174.9" lengthAdjust="spacingAndGlyphs" >PUNTOS BASE, SEMANAS</text>
<line x1="452.3" y1="1065.8" x2="452.3" y2="1355.1" stroke="#8a8a8a" stroke-width="1.4" />
<line x1="464.3" y1="1065.8" x2="464.3" y2="1355.1" stroke="#dadada" stroke-width="1.8" />
<line x1="476.4" y1="1065.8" x2="476.4" y2="1355.1" stroke="#dadada" stroke-width="1.8" />
<line x1="488.4" y1="1065.8" x2="488.4" y2="1355.1" stroke="#dadada" stroke-width="1.8" />
<line x1="500.5" y1="1065.8" x2="500.5" y2="1355.1" stroke="#dadada" stroke-width="1.8" />
<line x1="512.5" y1="1065.8" x2="512.5" y2="1355.1" stroke="#dadada" stroke-width="1.8" />
<line x1="524.5" y1="1065.8" x2="524.5" y2="1355.1" stroke="#dadada" stroke-width="1.8" />
<line x1="536.6" y1="1065.8" x2="536.6" y2="1355.1" stroke="#dadada" stroke-width="1.8" />
<line x1="548.6" y1="1065.8" x2="548.6" y2="1355.1" stroke="#dadada" stroke-width="1.8" />
<line x1="560.7" y1="1065.8" x2="560.7" y2="1355.1" stroke="#dadada" stroke-width="1.8" />
<line x1="572.7" y1="1065.8" x2="572.7" y2="1355.1" stroke="#dadada" stroke-width="1.8" />
<line x1="584.7" y1="1065.8" x2="584.7" y2="1355.1" stroke="#dadada" stroke-width="1.8" />
<line x1="596.8" y1="1065.8" x2="596.8" y2="1355.1" stroke="#dadada" stroke-width="1.8" />
<line x1="608.8" y1="1065.8" x2="608.8" y2="1355.1" stroke="#dadada" stroke-width="1.8" />
<line x1="620.9" y1="1065.8" x2="620.9" y2="1355.1" stroke="#dadada" stroke-width="1.8" />
<line x1="632.9" y1="1065.8" x2="632.9" y2="1355.1" stroke="#dadada" stroke-width="1.8" />
<line x1="644.9" y1="1065.8" x2="644.9" y2="1355.1" stroke="#dadada" stroke-width="1.8" />
<line x1="657.0" y1="1065.8" x2="657.0" y2="1355.1" stroke="#dadada" stroke-width="1.8" />
<line x1="669.0" y1="1065.8" x2="669.0" y2="1355.1" stroke="#dadada" stroke-width="1.8" />
<line x1="681.1" y1="1065.8" x2="681.1" y2="1355.1" stroke="#dadada" stroke-width="1.8" />
<line x1="693.1" y1="1065.8" x2="693.1" y2="1355.1" stroke="#dadada" stroke-width="1.8" />
<line x1="705.1" y1="1065.8" x2="705.1" y2="1355.1" stroke="#dadada" stroke-width="1.8" />
<line x1="717.2" y1="1065.8" x2="717.2" y2="1355.1" stroke="#dadada" stroke-width="1.8" />
<line x1="729.2" y1="1065.8" x2="729.2" y2="1355.1" stroke="#dadada" stroke-width="1.8" />
<line x1="741.3" y1="1065.8" x2="741.3" y2="1355.1" stroke="#dadada" stroke-width="1.8" />
<line x1="753.3" y1="1065.8" x2="753.3" y2="1355.1" stroke="#dadada" stroke-width="1.8" />
<line x1="765.3" y1="1065.8" x2="765.3" y2="1355.1" stroke="#dadada" stroke-width="1.8" />
<line x1="777.4" y1="1065.8" x2="777.4" y2="1355.1" stroke="#dadada" stroke-width="1.8" />
<line x1="789.4" y1="1065.8" x2="789.4" y2="1355.1" stroke="#dadada" stroke-width="1.8" />
<line x1="801.5" y1="1065.8" x2="801.5" y2="1355.1" stroke="#dadada" stroke-width="1.8" />
<line x1="813.5" y1="1065.8" x2="813.5" y2="1355.1" stroke="#dadada" stroke-width="1.8" />
<line x1="825.5" y1="1065.8" x2="825.5" y2="1355.1" stroke="#dadada" stroke-width="1.8" />
<line x1="837.6" y1="1065.8" x2="837.6" y2="1355.1" stroke="#dadada" stroke-width="1.8" />
<line x1="849.6" y1="1065.8" x2="849.6" y2="1355.1" stroke="#dadada" stroke-width="1.8" />
<line x1="861.7" y1="1065.8" x2="861.7" y2="1355.1" stroke="#dadada" stroke-width="1.8" />
<line x1="873.7" y1="1065.8" x2="873.7" y2="1355.1" stroke="#dadada" stroke-width="1.8" />
<line x1="885.7" y1="1065.8" x2="885.7" y2="1355.1" stroke="#dadada" stroke-width="1.8" />
<line x1="897.8" y1="1065.8" x2="897.8" y2="1355.1" stroke="#dadada" stroke-width="1.8" />
<line x1="909.8" y1="1065.8" x2="909.8" y2="1355.1" stroke="#dadada" stroke-width="1.8" />
<line x1="921.9" y1="1065.8" x2="921.9" y2="1355.1" stroke="#dadada" stroke-width="1.8" />
<line x1="933.9" y1="1065.8" x2="933.9" y2="1355.1" stroke="#dadada" stroke-width="1.8" />
<line x1="945.9" y1="1065.8" x2="945.9" y2="1355.1" stroke="#dadada" stroke-width="1.8" />
<line x1="958.0" y1="1065.8" x2="958.0" y2="1355.1" stroke="#dadada" stroke-width="1.8" />
<line x1="970.0" y1="1065.8" x2="970.0" y2="1355.1" stroke="#dadada" stroke-width="1.8" />
<line x1="982.1" y1="1065.8" x2="982.1" y2="1355.1" stroke="#dadada" stroke-width="1.8" />
<line x1="994.1" y1="1065.8" x2="994.1" y2="1355.1" stroke="#dadada" stroke-width="1.8" />
<line x1="1006.1" y1="1065.8" x2="1006.1" y2="1355.1" stroke="#dadada" stroke-width="1.8" />
<line x1="1018.2" y1="1065.8" x2="1018.2" y2="1355.1" stroke="#dadada" stroke-width="1.8" />
<line x1="1030.2" y1="1065.8" x2="1030.2" y2="1355.1" stroke="#dadada" stroke-width="1.8" />
<line x1="1042.3" y1="1065.8" x2="1042.3" y2="1355.1" stroke="#dadada" stroke-width="1.8" />
<line x1="452.3" y1="1310.8" x2="1044.8" y2="1310.8" stroke="#cfcfcf" stroke-width="1.1" stroke-dasharray="2.4 2.3"/>
<line x1="452.3" y1="1269.4" x2="1044.8" y2="1269.4" stroke="#cfcfcf" stroke-width="1.1" stroke-dasharray="2.4 2.3"/>
<line x1="452.3" y1="1228.7" x2="1044.8" y2="1228.7" stroke="#cfcfcf" stroke-width="1.1" stroke-dasharray="2.4 2.3"/>
<line x1="452.3" y1="1187.9" x2="1044.8" y2="1187.9" stroke="#cfcfcf" stroke-width="1.1" stroke-dasharray="2.4 2.3"/>
<line x1="452.3" y1="1147.3" x2="1044.8" y2="1147.3" stroke="#cfcfcf" stroke-width="1.1" stroke-dasharray="2.4 2.3"/>
<line x1="452.3" y1="1106.1" x2="1044.8" y2="1106.1" stroke="#cfcfcf" stroke-width="1.1" stroke-dasharray="2.4 2.3"/>
<line x1="452.3" y1="1065.5" x2="1044.8" y2="1065.5" stroke="#cfcfcf" stroke-width="1.1" stroke-dasharray="2.4 2.3"/>
<line x1="446.0" y1="1351.1" x2="452.3" y2="1351.1" stroke="#c8c8c8" stroke-width="1.2" />
<line x1="451.7" y1="1351.1" x2="1042.9" y2="1351.1" stroke="#555" stroke-width="1.5" />
<text x="442.4" y="1355.1" font-size="14.2" font-weight="normal" text-anchor="end" fill="#222" textLength="8.8" lengthAdjust="spacingAndGlyphs" >0</text>
<text x="442.4" y="1314.9" font-size="14.2" font-weight="normal" text-anchor="end" fill="#222" textLength="15.2" lengthAdjust="spacingAndGlyphs" >20</text>
<text x="442.4" y="1273.5" font-size="14.2" font-weight="normal" text-anchor="end" fill="#222" textLength="15.2" lengthAdjust="spacingAndGlyphs" >40</text>
<text x="442.4" y="1232.8" font-size="14.2" font-weight="normal" text-anchor="end" fill="#222" textLength="15.2" lengthAdjust="spacingAndGlyphs" >60</text>
<text x="442.4" y="1192.0" font-size="14.2" font-weight="normal" text-anchor="end" fill="#222" textLength="15.2" lengthAdjust="spacingAndGlyphs" >80</text>
<text x="442.6" y="1151.4" font-size="14.2" font-weight="normal" text-anchor="end" fill="#222" textLength="22.1" lengthAdjust="spacingAndGlyphs" >100</text>
<text x="442.6" y="1110.2" font-size="14.2" font-weight="normal" text-anchor="end" fill="#222" textLength="22.1" lengthAdjust="spacingAndGlyphs" >120</text>
<text x="442.6" y="1069.6" font-size="14.2" font-weight="normal" text-anchor="end" fill="#222" textLength="22.1" lengthAdjust="spacingAndGlyphs" >140</text>
<rect x="769.6" y="1188" width="276.7" height="105.6" fill="#fff"/>
<polyline points="458.4,1298.9 470.4,1285.3 482.4,1287.3 494.5,1279.5 506.5,1268.3 518.6,1280.5 530.6,1271.4 542.6,1276.0 554.7,1272.7 566.7,1275.0 578.8,1274.3 590.8,1267.5 602.8,1280.5 614.9,1307.7 626.9,1311.6 639.0,1307.3 651.0,1310.6 663.0,1318.2 675.1,1332.9 687.1,1337.4 699.1,1332.9 711.2,1328.4 723.2,1317.4 735.3,1316.0 747.3,1319.3 759.4,1307.1 771.4,1307.1 783.4,1323.2 795.5,1314.1 807.5,1313.1 819.5,1301.5 831.6,1318.0 843.6,1320.7 855.7,1319.0 867.7,1317.6 879.8,1327.8 891.8,1332.4 903.8,1320.7 915.9,1329.8 927.9,1333.4 940.0,1336.3 952.0,1325.4 964.0,1344.3 976.1,1335.4 988.1,1332.8 1000.1,1339.9 1012.2,1328.4 1024.2,1331.4 1036.3,1328.4" fill="none" stroke="#7D90A8" stroke-width="6.2" stroke-linejoin="round" stroke-linecap="round" />
<polyline points="458.4,1280.5 470.4,1252.7 482.4,1252.7 494.5,1225.7 506.5,1240.3 518.6,1203.4 530.6,1178.5 542.6,1210.2 554.7,1219.3 566.7,1205.3 578.8,1254.9 590.8,1250.0 602.8,1235.8 614.9,1219.7 626.9,1198.5 639.0,1200.9 651.0,1178.2 663.0,1189.2 675.1,1196.0 687.1,1204.8 699.1,1185.3 711.2,1197.6 723.2,1167.3 735.3,1204.8 747.3,1188.3 759.4,1174.3 771.4,1168.8 783.4,1157.6 795.5,1159.1 807.5,1153.3 819.5,1147.5 831.6,1141.3 843.6,1144.6 855.7,1139.0 867.7,1154.5 879.8,1135.5 891.8,1163.7 903.8,1171.7 915.9,1179.8 927.9,1153.0 940.0,1159.6 952.0,1153.2 964.0,1131.4 976.1,1123.4 988.1,1128.0 1000.1,1110.9 1012.2,1123.4 1024.2,1128.8 1036.3,1143.9" fill="none" stroke="#DF9520" stroke-width="6.6" stroke-linejoin="round" stroke-linecap="round" />
<rect x="498.4" y="1077" width="365.7" height="29.2" rx="7" fill="#fff" stroke="#bcbcbc" stroke-width="1.1"/>
<line x1="513.0" y1="1096.0" x2="538.0" y2="1096.0" stroke="#DF9520" stroke-width="6" stroke-linecap="round"/>
<text x="545.0" y="1099.8" font-size="16.4" font-weight="normal" text-anchor="start" fill="#1a1a1a" textLength="129.2" lengthAdjust="spacingAndGlyphs" >ALTA VALORACIÓN</text>
<line x1="697.2" y1="1096.0" x2="721.5" y2="1096.0" stroke="#7D90A8" stroke-width="6" stroke-linecap="round"/>
<text x="726.1" y="1099.8" font-size="16.4" font-weight="normal" text-anchor="start" fill="#1a1a1a" textLength="126.8" lengthAdjust="spacingAndGlyphs" >BAJA VALORACIÓN</text>
<text x="458.9" y="1371.5" font-size="16.6" font-weight="normal" text-anchor="middle" fill="#222" textLength="9.6" lengthAdjust="spacingAndGlyphs" >0</text>
<text x="554.9" y="1371.5" font-size="16.6" font-weight="normal" text-anchor="middle" fill="#222" textLength="9.6" lengthAdjust="spacingAndGlyphs" >8</text>
<text x="649.0" y="1371.5" font-size="16.6" font-weight="normal" text-anchor="middle" fill="#222" textLength="16.6" lengthAdjust="spacingAndGlyphs" >16</text>
<text x="742.8" y="1371.5" font-size="16.6" font-weight="normal" text-anchor="middle" fill="#222" textLength="16.6" lengthAdjust="spacingAndGlyphs" >24</text>
<text x="839.4" y="1371.5" font-size="16.6" font-weight="normal" text-anchor="middle" fill="#222" textLength="16.6" lengthAdjust="spacingAndGlyphs" >32</text>
<text x="935.6" y="1371.5" font-size="16.6" font-weight="normal" text-anchor="middle" fill="#222" textLength="16.6" lengthAdjust="spacingAndGlyphs" >40</text>
<text x="1031.4" y="1371.5" font-size="16.6" font-weight="normal" text-anchor="middle" fill="#222" textLength="16.6" lengthAdjust="spacingAndGlyphs" >48</text>
<text x="404.1" y="1392.9" font-size="12.2" font-weight="normal" text-anchor="start" fill="#222" textLength="206.9" lengthAdjust="spacingAndGlyphs" >FUENTE: BANCO CENTRAL DE CHILE.</text>
<text x="1052.3" y="1205.3" font-size="13.1" font-weight="normal" text-anchor="end" fill="#333" textLength="214.0" lengthAdjust="spacingAndGlyphs" >(*) ALTA VALORACIÓN CORRESPONDE AL</text>
<text x="1052.3" y="1219.7" font-size="13.1" font-weight="normal" text-anchor="end" fill="#333" textLength="232.4" lengthAdjust="spacingAndGlyphs" >COEFICIENTE DE LA REGRESIÓN CUANDO LA</text>
<text x="1052.3" y="1234.0" font-size="13.1" font-weight="normal" text-anchor="end" fill="#333" textLength="274.7" lengthAdjust="spacingAndGlyphs" >VALORACIÓN ESTÁ POR SOBRE EL PERCENTIL 75 DE</text>
<text x="1052.3" y="1248.4" font-size="13.1" font-weight="normal" text-anchor="end" fill="#333" textLength="279.5" lengthAdjust="spacingAndGlyphs" >LA DISTRIBUCIÓN. BAJA VALORACIÓN CORRESPONDE</text>
<text x="1052.3" y="1262.8" font-size="13.1" font-weight="normal" text-anchor="end" fill="#333" textLength="269.9" lengthAdjust="spacingAndGlyphs" >AL RESTO DE LOS CASOS. LOS DATOS DESTACADOS</text>
<text x="1052.3" y="1277.1" font-size="13.1" font-weight="normal" text-anchor="end" fill="#333" textLength="228.7" lengthAdjust="spacingAndGlyphs" >CON CÍRCULOS SON SIGNIFICATIVOS AL 95%</text>
<text x="1052.3" y="1291.5" font-size="13.1" font-weight="normal" text-anchor="end" fill="#333" textLength="173.6" lengthAdjust="spacingAndGlyphs" >UTILIZANDO BLOCK BOOTSTRAP.</text>
</svg>
</body></html>
